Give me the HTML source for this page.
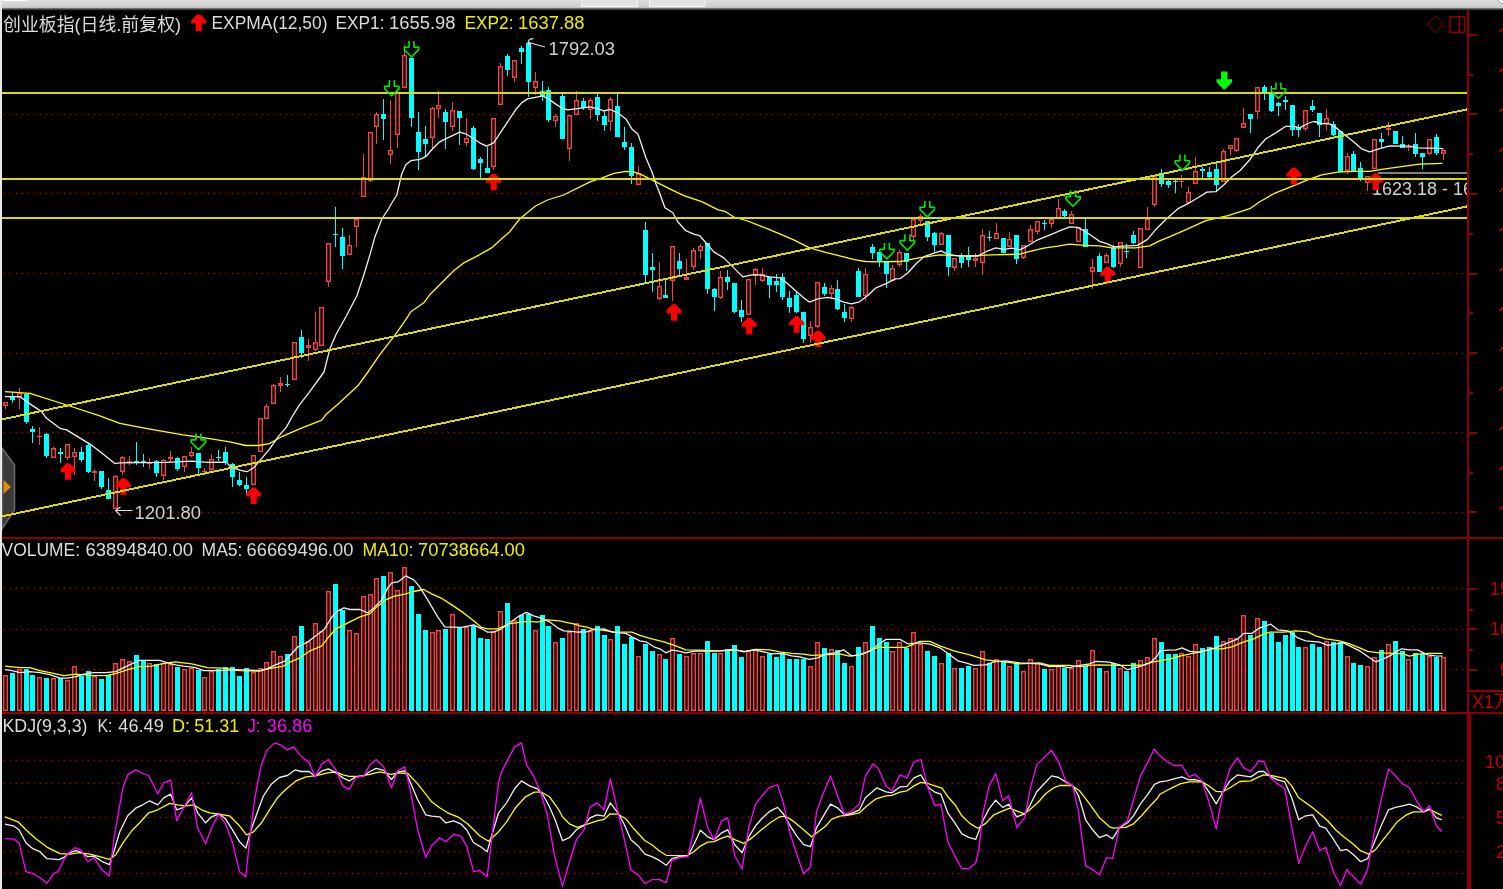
<!DOCTYPE html><html><head><meta charset="utf-8"><title>chart</title><style>html,body{margin:0;padding:0;background:#000;overflow:hidden}body{width:1503px;height:889px;position:relative}svg{position:absolute;left:0;top:0;display:block}text{font-family:"Liberation Sans","Noto Sans CJK SC",sans-serif;font-size:18px}</style></head><body>
<svg width="1503" height="889" viewBox="0 0 1503 889">
<rect x="0" y="0" width="1503" height="889" fill="#000"/>
<path d="M2 448 L14.5 465 V510 L2 529 z" fill="#3a3a3a" stroke="#6a6a6a" stroke-width="1.5"/>
<path d="M3.5 480 L11 487 L3.5 494 z" fill="#e09000"/>
<line x1="3.75" y1="114.5" x2="1466" y2="114.5" stroke="#a40000" stroke-width="1.5" stroke-dasharray="1.5 4.5"/>
<line x1="3.75" y1="193.5" x2="1466" y2="193.5" stroke="#a40000" stroke-width="1.5" stroke-dasharray="1.5 4.5"/>
<line x1="3.75" y1="273.5" x2="1466" y2="273.5" stroke="#a40000" stroke-width="1.5" stroke-dasharray="1.5 4.5"/>
<line x1="3.75" y1="353.5" x2="1466" y2="353.5" stroke="#a40000" stroke-width="1.5" stroke-dasharray="1.5 4.5"/>
<line x1="3.75" y1="432.5" x2="1466" y2="432.5" stroke="#a40000" stroke-width="1.5" stroke-dasharray="1.5 4.5"/>
<line x1="3.75" y1="512.5" x2="1466" y2="512.5" stroke="#a40000" stroke-width="1.5" stroke-dasharray="1.5 4.5"/>
<line x1="3.75" y1="588.5" x2="1466" y2="588.5" stroke="#a40000" stroke-width="1.5" stroke-dasharray="1.5 4.5"/>
<line x1="3.75" y1="629.5" x2="1466" y2="629.5" stroke="#a40000" stroke-width="1.5" stroke-dasharray="1.5 4.5"/>
<line x1="3.75" y1="669.5" x2="1466" y2="669.5" stroke="#a40000" stroke-width="1.5" stroke-dasharray="1.5 4.5"/>
<line x1="3.75" y1="760.5" x2="1466" y2="760.5" stroke="#a40000" stroke-width="1.5" stroke-dasharray="1.5 4.5"/>
<line x1="3.75" y1="783.5" x2="1466" y2="783.5" stroke="#a40000" stroke-width="1.5" stroke-dasharray="1.5 4.5"/>
<line x1="3.75" y1="817.5" x2="1466" y2="817.5" stroke="#a40000" stroke-width="1.5" stroke-dasharray="1.5 4.5"/>
<line x1="3.75" y1="851.5" x2="1466" y2="851.5" stroke="#a40000" stroke-width="1.5" stroke-dasharray="1.5 4.5"/>
<line x1="3.75" y1="873.5" x2="1466" y2="873.5" stroke="#a40000" stroke-width="1.5" stroke-dasharray="1.5 4.5"/>
<g shape-rendering="crispEdges">
<rect x="5" y="406" width="1" height="3" fill="#f04444"/>
<rect x="3.7" y="402.7" width="3.6" height="2.6" fill="none" stroke="#f04444" stroke-width="1.4" shape-rendering="auto"/>
<rect x="12" y="392" width="1" height="11" fill="#00ffff"/>
<rect x="10" y="397" width="5" height="3" fill="#00ffff"/>
<rect x="19" y="388" width="1" height="5" fill="#f04444"/>
<rect x="19" y="398" width="1" height="11" fill="#f04444"/>
<rect x="17.7" y="393.7" width="3.6" height="3.6" fill="none" stroke="#f04444" stroke-width="1.4" shape-rendering="auto"/>
<rect x="26" y="393" width="1" height="31" fill="#00ffff"/>
<rect x="24" y="394" width="5" height="28" fill="#00ffff"/>
<rect x="32" y="426" width="1" height="17" fill="#00ffff"/>
<rect x="30" y="429" width="5" height="3" fill="#00ffff"/>
<rect x="39" y="427" width="1" height="9" fill="#f04444"/>
<rect x="39" y="437" width="1" height="8" fill="#f04444"/>
<rect x="37" y="436" width="5" height="1" fill="#f04444"/>
<rect x="46" y="433" width="1" height="25" fill="#00ffff"/>
<rect x="44" y="434" width="5" height="22" fill="#00ffff"/>
<rect x="53" y="447" width="1" height="1" fill="#f04444"/>
<rect x="51.7" y="448.7" width="3.6" height="8.6" fill="none" stroke="#f04444" stroke-width="1.4" shape-rendering="auto"/>
<rect x="60" y="448" width="1" height="15" fill="#00ffff"/>
<rect x="58" y="452" width="5" height="2" fill="#00ffff"/>
<rect x="67" y="458" width="1" height="2" fill="#f04444"/>
<rect x="65.7" y="444.7" width="3.6" height="12.6" fill="none" stroke="#f04444" stroke-width="1.4" shape-rendering="auto"/>
<rect x="74" y="448" width="1" height="4" fill="#f04444"/>
<rect x="74" y="457" width="1" height="18" fill="#f04444"/>
<rect x="72.7" y="452.7" width="3.6" height="3.6" fill="none" stroke="#f04444" stroke-width="1.4" shape-rendering="auto"/>
<rect x="81" y="447" width="1" height="15" fill="#00ffff"/>
<rect x="79" y="452" width="5" height="8" fill="#00ffff"/>
<rect x="88" y="444" width="1" height="29" fill="#00ffff"/>
<rect x="86" y="445" width="5" height="27" fill="#00ffff"/>
<rect x="94" y="469" width="1" height="2" fill="#f04444"/>
<rect x="94" y="473" width="1" height="8" fill="#f04444"/>
<rect x="92" y="471" width="5" height="2" fill="#f04444"/>
<rect x="101" y="471" width="1" height="18" fill="#00ffff"/>
<rect x="99" y="471" width="5" height="16" fill="#00ffff"/>
<rect x="108" y="478" width="1" height="21" fill="#00ffff"/>
<rect x="106" y="490" width="5" height="9" fill="#00ffff"/>
<rect x="115" y="475" width="1" height="1" fill="#f04444"/>
<rect x="113.7" y="476.7" width="3.6" height="31.6" fill="none" stroke="#f04444" stroke-width="1.4" shape-rendering="auto"/>
<rect x="122" y="456" width="1" height="1" fill="#f04444"/>
<rect x="122" y="472" width="1" height="3" fill="#f04444"/>
<rect x="120.7" y="457.7" width="3.6" height="13.6" fill="none" stroke="#f04444" stroke-width="1.4" shape-rendering="auto"/>
<rect x="129" y="456" width="1" height="5" fill="#f04444"/>
<rect x="129" y="463" width="1" height="2" fill="#f04444"/>
<rect x="127" y="461" width="5" height="2" fill="#f04444"/>
<rect x="136" y="442" width="1" height="23" fill="#00ffff"/>
<rect x="134" y="461" width="5" height="2" fill="#00ffff"/>
<rect x="143" y="454" width="1" height="13" fill="#00ffff"/>
<rect x="141" y="461" width="5" height="1" fill="#00ffff"/>
<rect x="149" y="458" width="1" height="5" fill="#f04444"/>
<rect x="149" y="464" width="1" height="5" fill="#f04444"/>
<rect x="147" y="463" width="5" height="1" fill="#f04444"/>
<rect x="156" y="460" width="1" height="17" fill="#00ffff"/>
<rect x="154" y="461" width="5" height="12" fill="#00ffff"/>
<rect x="163" y="459" width="1" height="1" fill="#f04444"/>
<rect x="163" y="476" width="1" height="4" fill="#f04444"/>
<rect x="161.7" y="460.7" width="3.6" height="14.6" fill="none" stroke="#f04444" stroke-width="1.4" shape-rendering="auto"/>
<rect x="170" y="451" width="1" height="6" fill="#f04444"/>
<rect x="170" y="459" width="1" height="3" fill="#f04444"/>
<rect x="168" y="457" width="5" height="2" fill="#f04444"/>
<rect x="177" y="457" width="1" height="14" fill="#00ffff"/>
<rect x="175" y="458" width="5" height="11" fill="#00ffff"/>
<rect x="184" y="467" width="1" height="5" fill="#f04444"/>
<rect x="182.7" y="456.7" width="3.6" height="9.6" fill="none" stroke="#f04444" stroke-width="1.4" shape-rendering="auto"/>
<rect x="191" y="447" width="1" height="5" fill="#f04444"/>
<rect x="191" y="456" width="1" height="1" fill="#f04444"/>
<rect x="189.7" y="452.7" width="3.6" height="2.6" fill="none" stroke="#f04444" stroke-width="1.4" shape-rendering="auto"/>
<rect x="198" y="453" width="1" height="21" fill="#00ffff"/>
<rect x="196" y="453" width="5" height="15" fill="#00ffff"/>
<rect x="204" y="468" width="1" height="3" fill="#f04444"/>
<rect x="204" y="472" width="1" height="1" fill="#f04444"/>
<rect x="202" y="471" width="5" height="1" fill="#f04444"/>
<rect x="211" y="454" width="1" height="5" fill="#f04444"/>
<rect x="211" y="470" width="1" height="2" fill="#f04444"/>
<rect x="209.7" y="459.7" width="3.6" height="9.6" fill="none" stroke="#f04444" stroke-width="1.4" shape-rendering="auto"/>
<rect x="218" y="450" width="1" height="11" fill="#00ffff"/>
<rect x="216" y="457" width="5" height="1" fill="#00ffff"/>
<rect x="225" y="447" width="1" height="18" fill="#00ffff"/>
<rect x="223" y="452" width="5" height="10" fill="#00ffff"/>
<rect x="232" y="463" width="1" height="24" fill="#00ffff"/>
<rect x="230" y="464" width="5" height="13" fill="#00ffff"/>
<rect x="239" y="472" width="1" height="14" fill="#00ffff"/>
<rect x="237" y="480" width="5" height="5" fill="#00ffff"/>
<rect x="246" y="477" width="1" height="18" fill="#00ffff"/>
<rect x="244" y="485" width="5" height="4" fill="#00ffff"/>
<rect x="251.7" y="455.7" width="3.6" height="28.6" fill="none" stroke="#f04444" stroke-width="1.4" shape-rendering="auto"/>
<rect x="258.7" y="418.7" width="3.6" height="32.6" fill="none" stroke="#f04444" stroke-width="1.4" shape-rendering="auto"/>
<rect x="266" y="404" width="1" height="2" fill="#f04444"/>
<rect x="264.7" y="406.7" width="3.6" height="11.6" fill="none" stroke="#f04444" stroke-width="1.4" shape-rendering="auto"/>
<rect x="273" y="384" width="1" height="1" fill="#f04444"/>
<rect x="271.7" y="385.7" width="3.6" height="17.6" fill="none" stroke="#f04444" stroke-width="1.4" shape-rendering="auto"/>
<rect x="280" y="377" width="1" height="6" fill="#f04444"/>
<rect x="280" y="386" width="1" height="6" fill="#f04444"/>
<rect x="278.7" y="383.7" width="3.6" height="1.6" fill="none" stroke="#f04444" stroke-width="1.4" shape-rendering="auto"/>
<rect x="287" y="375" width="1" height="12" fill="#00ffff"/>
<rect x="285" y="384" width="5" height="1" fill="#00ffff"/>
<rect x="292.7" y="342.7" width="3.6" height="36.6" fill="none" stroke="#f04444" stroke-width="1.4" shape-rendering="auto"/>
<rect x="301" y="330" width="1" height="28" fill="#00ffff"/>
<rect x="299" y="337" width="5" height="16" fill="#00ffff"/>
<rect x="308" y="339" width="1" height="6" fill="#f04444"/>
<rect x="308" y="348" width="1" height="13" fill="#f04444"/>
<rect x="306.7" y="345.7" width="3.6" height="1.6" fill="none" stroke="#f04444" stroke-width="1.4" shape-rendering="auto"/>
<rect x="315" y="312" width="1" height="30" fill="#f04444"/>
<rect x="315" y="350" width="1" height="1" fill="#f04444"/>
<rect x="313.7" y="342.7" width="3.6" height="6.6" fill="none" stroke="#f04444" stroke-width="1.4" shape-rendering="auto"/>
<rect x="319.7" y="307.7" width="3.6" height="37.6" fill="none" stroke="#f04444" stroke-width="1.4" shape-rendering="auto"/>
<rect x="328" y="282" width="1" height="5" fill="#f04444"/>
<rect x="326.7" y="243.7" width="3.6" height="37.6" fill="none" stroke="#f04444" stroke-width="1.4" shape-rendering="auto"/>
<rect x="335" y="207" width="1" height="40" fill="#00ffff"/>
<rect x="333" y="234" width="5" height="1" fill="#00ffff"/>
<rect x="342" y="228" width="1" height="41" fill="#00ffff"/>
<rect x="340" y="237" width="5" height="19" fill="#00ffff"/>
<rect x="349" y="235" width="1" height="10" fill="#f04444"/>
<rect x="347.7" y="245.7" width="3.6" height="8.6" fill="none" stroke="#f04444" stroke-width="1.4" shape-rendering="auto"/>
<rect x="356" y="227" width="1" height="20" fill="#f04444"/>
<rect x="354.7" y="219.7" width="3.6" height="6.6" fill="none" stroke="#f04444" stroke-width="1.4" shape-rendering="auto"/>
<rect x="363" y="154" width="1" height="23" fill="#f04444"/>
<rect x="361.7" y="177.7" width="3.6" height="18.6" fill="none" stroke="#f04444" stroke-width="1.4" shape-rendering="auto"/>
<rect x="370" y="181" width="1" height="1" fill="#f04444"/>
<rect x="368.7" y="132.7" width="3.6" height="47.6" fill="none" stroke="#f04444" stroke-width="1.4" shape-rendering="auto"/>
<rect x="376" y="112" width="1" height="2" fill="#f04444"/>
<rect x="376" y="127" width="1" height="17" fill="#f04444"/>
<rect x="374.7" y="114.7" width="3.6" height="11.6" fill="none" stroke="#f04444" stroke-width="1.4" shape-rendering="auto"/>
<rect x="383" y="99" width="1" height="41" fill="#00ffff"/>
<rect x="381" y="114" width="5" height="5" fill="#00ffff"/>
<rect x="390" y="100" width="1" height="50" fill="#f04444"/>
<rect x="390" y="155" width="1" height="9" fill="#f04444"/>
<rect x="388.7" y="150.7" width="3.6" height="3.6" fill="none" stroke="#f04444" stroke-width="1.4" shape-rendering="auto"/>
<rect x="397" y="91" width="1" height="1" fill="#f04444"/>
<rect x="397" y="135" width="1" height="13" fill="#f04444"/>
<rect x="395.7" y="92.7" width="3.6" height="41.6" fill="none" stroke="#f04444" stroke-width="1.4" shape-rendering="auto"/>
<rect x="404" y="45" width="1" height="10" fill="#f04444"/>
<rect x="402.7" y="55.7" width="3.6" height="31.6" fill="none" stroke="#f04444" stroke-width="1.4" shape-rendering="auto"/>
<rect x="411" y="58" width="1" height="69" fill="#00ffff"/>
<rect x="409" y="58" width="5" height="60" fill="#00ffff"/>
<rect x="418" y="112" width="1" height="58" fill="#00ffff"/>
<rect x="416" y="132" width="5" height="20" fill="#00ffff"/>
<rect x="425" y="126" width="1" height="31" fill="#00ffff"/>
<rect x="423" y="139" width="5" height="5" fill="#00ffff"/>
<rect x="432" y="107" width="1" height="1" fill="#f04444"/>
<rect x="432" y="138" width="1" height="12" fill="#f04444"/>
<rect x="430.7" y="108.7" width="3.6" height="28.6" fill="none" stroke="#f04444" stroke-width="1.4" shape-rendering="auto"/>
<rect x="438" y="91" width="1" height="14" fill="#f04444"/>
<rect x="438" y="109" width="1" height="9" fill="#f04444"/>
<rect x="436.7" y="105.7" width="3.6" height="2.6" fill="none" stroke="#f04444" stroke-width="1.4" shape-rendering="auto"/>
<rect x="445" y="109" width="1" height="40" fill="#00ffff"/>
<rect x="443" y="112" width="5" height="10" fill="#00ffff"/>
<rect x="452" y="102" width="1" height="8" fill="#f04444"/>
<rect x="452" y="127" width="1" height="4" fill="#f04444"/>
<rect x="450.7" y="110.7" width="3.6" height="15.6" fill="none" stroke="#f04444" stroke-width="1.4" shape-rendering="auto"/>
<rect x="459" y="111" width="1" height="34" fill="#00ffff"/>
<rect x="457" y="111" width="5" height="7" fill="#00ffff"/>
<rect x="466" y="118" width="1" height="20" fill="#f04444"/>
<rect x="466" y="143" width="1" height="3" fill="#f04444"/>
<rect x="464.7" y="138.7" width="3.6" height="3.6" fill="none" stroke="#f04444" stroke-width="1.4" shape-rendering="auto"/>
<rect x="473" y="126" width="1" height="44" fill="#00ffff"/>
<rect x="471" y="128" width="5" height="41" fill="#00ffff"/>
<rect x="480" y="157" width="1" height="21" fill="#00ffff"/>
<rect x="478" y="159" width="5" height="4" fill="#00ffff"/>
<rect x="487" y="147" width="1" height="26" fill="#00ffff"/>
<rect x="485" y="168" width="5" height="5" fill="#00ffff"/>
<rect x="493" y="167" width="1" height="3" fill="#f04444"/>
<rect x="491.7" y="118.7" width="3.6" height="47.6" fill="none" stroke="#f04444" stroke-width="1.4" shape-rendering="auto"/>
<rect x="500" y="63" width="1" height="3" fill="#f04444"/>
<rect x="498.7" y="66.7" width="3.6" height="37.6" fill="none" stroke="#f04444" stroke-width="1.4" shape-rendering="auto"/>
<rect x="507" y="54" width="1" height="22" fill="#00ffff"/>
<rect x="505" y="56" width="5" height="14" fill="#00ffff"/>
<rect x="514" y="78" width="1" height="4" fill="#f04444"/>
<rect x="512.7" y="60.7" width="3.6" height="16.6" fill="none" stroke="#f04444" stroke-width="1.4" shape-rendering="auto"/>
<rect x="521" y="46" width="1" height="18" fill="#00ffff"/>
<rect x="519" y="48" width="5" height="4" fill="#00ffff"/>
<rect x="528" y="42" width="1" height="55" fill="#00ffff"/>
<rect x="526" y="43" width="5" height="39" fill="#00ffff"/>
<rect x="535" y="72" width="1" height="9" fill="#f04444"/>
<rect x="535" y="88" width="1" height="7" fill="#f04444"/>
<rect x="533.7" y="81.7" width="3.6" height="5.6" fill="none" stroke="#f04444" stroke-width="1.4" shape-rendering="auto"/>
<rect x="542" y="81" width="1" height="20" fill="#00ffff"/>
<rect x="540" y="91" width="5" height="5" fill="#00ffff"/>
<rect x="548" y="87" width="1" height="35" fill="#00ffff"/>
<rect x="546" y="90" width="5" height="30" fill="#00ffff"/>
<rect x="555" y="114" width="1" height="2" fill="#f04444"/>
<rect x="555" y="121" width="1" height="6" fill="#f04444"/>
<rect x="553.7" y="116.7" width="3.6" height="3.6" fill="none" stroke="#f04444" stroke-width="1.4" shape-rendering="auto"/>
<rect x="562" y="94" width="1" height="45" fill="#00ffff"/>
<rect x="560" y="96" width="5" height="43" fill="#00ffff"/>
<rect x="569" y="149" width="1" height="12" fill="#f04444"/>
<rect x="567.7" y="115.7" width="3.6" height="32.6" fill="none" stroke="#f04444" stroke-width="1.4" shape-rendering="auto"/>
<rect x="576" y="91" width="1" height="9" fill="#f04444"/>
<rect x="574.7" y="100.7" width="3.6" height="13.6" fill="none" stroke="#f04444" stroke-width="1.4" shape-rendering="auto"/>
<rect x="583" y="98" width="1" height="12" fill="#00ffff"/>
<rect x="581" y="101" width="5" height="7" fill="#00ffff"/>
<rect x="590" y="98" width="1" height="2" fill="#f04444"/>
<rect x="590" y="110" width="1" height="9" fill="#f04444"/>
<rect x="588.7" y="100.7" width="3.6" height="8.6" fill="none" stroke="#f04444" stroke-width="1.4" shape-rendering="auto"/>
<rect x="597" y="94" width="1" height="27" fill="#00ffff"/>
<rect x="595" y="97" width="5" height="18" fill="#00ffff"/>
<rect x="604" y="110" width="1" height="21" fill="#00ffff"/>
<rect x="602" y="116" width="5" height="9" fill="#00ffff"/>
<rect x="610" y="97" width="1" height="2" fill="#f04444"/>
<rect x="610" y="122" width="1" height="9" fill="#f04444"/>
<rect x="608.7" y="99.7" width="3.6" height="21.6" fill="none" stroke="#f04444" stroke-width="1.4" shape-rendering="auto"/>
<rect x="617" y="94" width="1" height="43" fill="#00ffff"/>
<rect x="615" y="106" width="5" height="31" fill="#00ffff"/>
<rect x="624" y="127" width="1" height="23" fill="#00ffff"/>
<rect x="622" y="142" width="5" height="5" fill="#00ffff"/>
<rect x="631" y="143" width="1" height="41" fill="#00ffff"/>
<rect x="629" y="147" width="5" height="29" fill="#00ffff"/>
<rect x="638" y="166" width="1" height="7" fill="#f04444"/>
<rect x="636.7" y="173.7" width="3.6" height="10.6" fill="none" stroke="#f04444" stroke-width="1.4" shape-rendering="auto"/>
<rect x="645" y="222" width="1" height="60" fill="#00ffff"/>
<rect x="643" y="230" width="5" height="45" fill="#00ffff"/>
<rect x="652" y="253" width="1" height="39" fill="#00ffff"/>
<rect x="650" y="267" width="5" height="3" fill="#00ffff"/>
<rect x="659" y="262" width="1" height="24" fill="#f04444"/>
<rect x="659" y="299" width="1" height="1" fill="#f04444"/>
<rect x="657.7" y="286.7" width="3.6" height="11.6" fill="none" stroke="#f04444" stroke-width="1.4" shape-rendering="auto"/>
<rect x="665" y="280" width="1" height="18" fill="#00ffff"/>
<rect x="663" y="295" width="5" height="3" fill="#00ffff"/>
<rect x="672" y="281" width="1" height="20" fill="#f04444"/>
<rect x="670.7" y="246.7" width="3.6" height="33.6" fill="none" stroke="#f04444" stroke-width="1.4" shape-rendering="auto"/>
<rect x="679" y="253" width="1" height="23" fill="#00ffff"/>
<rect x="677" y="261" width="5" height="8" fill="#00ffff"/>
<rect x="686" y="259" width="1" height="18" fill="#f04444"/>
<rect x="684.7" y="277.7" width="3.6" height="1.6" fill="none" stroke="#f04444" stroke-width="1.4" shape-rendering="auto"/>
<rect x="693" y="248" width="1" height="2" fill="#f04444"/>
<rect x="693" y="267" width="1" height="3" fill="#f04444"/>
<rect x="691.7" y="250.7" width="3.6" height="15.6" fill="none" stroke="#f04444" stroke-width="1.4" shape-rendering="auto"/>
<rect x="700" y="244" width="1" height="2" fill="#f04444"/>
<rect x="700" y="251" width="1" height="8" fill="#f04444"/>
<rect x="698.7" y="246.7" width="3.6" height="3.6" fill="none" stroke="#f04444" stroke-width="1.4" shape-rendering="auto"/>
<rect x="707" y="243" width="1" height="51" fill="#00ffff"/>
<rect x="705" y="243" width="5" height="46" fill="#00ffff"/>
<rect x="714" y="288" width="1" height="23" fill="#00ffff"/>
<rect x="712" y="289" width="5" height="8" fill="#00ffff"/>
<rect x="720" y="271" width="1" height="6" fill="#f04444"/>
<rect x="720" y="298" width="1" height="1" fill="#f04444"/>
<rect x="718.7" y="277.7" width="3.6" height="19.6" fill="none" stroke="#f04444" stroke-width="1.4" shape-rendering="auto"/>
<rect x="727" y="270" width="1" height="20" fill="#00ffff"/>
<rect x="725" y="277" width="5" height="5" fill="#00ffff"/>
<rect x="734" y="283" width="1" height="30" fill="#00ffff"/>
<rect x="732" y="283" width="5" height="29" fill="#00ffff"/>
<rect x="741" y="300" width="1" height="22" fill="#00ffff"/>
<rect x="739" y="310" width="5" height="7" fill="#00ffff"/>
<rect x="746.7" y="279.7" width="3.6" height="34.6" fill="none" stroke="#f04444" stroke-width="1.4" shape-rendering="auto"/>
<rect x="755" y="268" width="1" height="1" fill="#f04444"/>
<rect x="755" y="276" width="1" height="9" fill="#f04444"/>
<rect x="753.7" y="269.7" width="3.6" height="5.6" fill="none" stroke="#f04444" stroke-width="1.4" shape-rendering="auto"/>
<rect x="762" y="268" width="1" height="6" fill="#f04444"/>
<rect x="762" y="281" width="1" height="1" fill="#f04444"/>
<rect x="760.7" y="274.7" width="3.6" height="5.6" fill="none" stroke="#f04444" stroke-width="1.4" shape-rendering="auto"/>
<rect x="769" y="277" width="1" height="21" fill="#00ffff"/>
<rect x="767" y="277" width="5" height="8" fill="#00ffff"/>
<rect x="776" y="274" width="1" height="18" fill="#00ffff"/>
<rect x="774" y="281" width="5" height="4" fill="#00ffff"/>
<rect x="782" y="273" width="1" height="27" fill="#00ffff"/>
<rect x="780" y="277" width="5" height="20" fill="#00ffff"/>
<rect x="789" y="291" width="1" height="22" fill="#00ffff"/>
<rect x="787" y="298" width="5" height="9" fill="#00ffff"/>
<rect x="796" y="292" width="1" height="21" fill="#00ffff"/>
<rect x="794" y="295" width="5" height="17" fill="#00ffff"/>
<rect x="803" y="312" width="1" height="31" fill="#00ffff"/>
<rect x="801" y="312" width="5" height="27" fill="#00ffff"/>
<rect x="810" y="321" width="1" height="6" fill="#f04444"/>
<rect x="810" y="336" width="1" height="7" fill="#f04444"/>
<rect x="808.7" y="327.7" width="3.6" height="7.6" fill="none" stroke="#f04444" stroke-width="1.4" shape-rendering="auto"/>
<rect x="817" y="327" width="1" height="1" fill="#f04444"/>
<rect x="815.7" y="282.7" width="3.6" height="43.6" fill="none" stroke="#f04444" stroke-width="1.4" shape-rendering="auto"/>
<rect x="824" y="283" width="1" height="13" fill="#00ffff"/>
<rect x="822" y="287" width="5" height="7" fill="#00ffff"/>
<rect x="831" y="285" width="1" height="3" fill="#f04444"/>
<rect x="831" y="294" width="1" height="5" fill="#f04444"/>
<rect x="829.7" y="288.7" width="3.6" height="4.6" fill="none" stroke="#f04444" stroke-width="1.4" shape-rendering="auto"/>
<rect x="837" y="280" width="1" height="30" fill="#00ffff"/>
<rect x="835" y="289" width="5" height="20" fill="#00ffff"/>
<rect x="844" y="304" width="1" height="18" fill="#00ffff"/>
<rect x="842" y="312" width="5" height="6" fill="#00ffff"/>
<rect x="851" y="306" width="1" height="1" fill="#f04444"/>
<rect x="851" y="319" width="1" height="3" fill="#f04444"/>
<rect x="849.7" y="307.7" width="3.6" height="10.6" fill="none" stroke="#f04444" stroke-width="1.4" shape-rendering="auto"/>
<rect x="858" y="268" width="1" height="29" fill="#00ffff"/>
<rect x="856" y="271" width="5" height="26" fill="#00ffff"/>
<rect x="865" y="268" width="1" height="6" fill="#f04444"/>
<rect x="865" y="296" width="1" height="5" fill="#f04444"/>
<rect x="863.7" y="274.7" width="3.6" height="20.6" fill="none" stroke="#f04444" stroke-width="1.4" shape-rendering="auto"/>
<rect x="872" y="244" width="1" height="15" fill="#00ffff"/>
<rect x="870" y="247" width="5" height="6" fill="#00ffff"/>
<rect x="879" y="252" width="1" height="15" fill="#00ffff"/>
<rect x="877" y="252" width="5" height="9" fill="#00ffff"/>
<rect x="886" y="261" width="1" height="27" fill="#00ffff"/>
<rect x="884" y="261" width="5" height="13" fill="#00ffff"/>
<rect x="892" y="265" width="1" height="3" fill="#f04444"/>
<rect x="890.7" y="268.7" width="3.6" height="11.6" fill="none" stroke="#f04444" stroke-width="1.4" shape-rendering="auto"/>
<rect x="899" y="250" width="1" height="2" fill="#f04444"/>
<rect x="899" y="265" width="1" height="2" fill="#f04444"/>
<rect x="897.7" y="252.7" width="3.6" height="11.6" fill="none" stroke="#f04444" stroke-width="1.4" shape-rendering="auto"/>
<rect x="906" y="253" width="1" height="18" fill="#00ffff"/>
<rect x="904" y="253" width="5" height="9" fill="#00ffff"/>
<rect x="913" y="237" width="1" height="4" fill="#f04444"/>
<rect x="911.7" y="219.7" width="3.6" height="16.6" fill="none" stroke="#f04444" stroke-width="1.4" shape-rendering="auto"/>
<rect x="920" y="214" width="1" height="2" fill="#f04444"/>
<rect x="920" y="221" width="1" height="4" fill="#f04444"/>
<rect x="918.7" y="216.7" width="3.6" height="3.6" fill="none" stroke="#f04444" stroke-width="1.4" shape-rendering="auto"/>
<rect x="927" y="221" width="1" height="20" fill="#00ffff"/>
<rect x="925" y="221" width="5" height="16" fill="#00ffff"/>
<rect x="934" y="232" width="1" height="20" fill="#00ffff"/>
<rect x="932" y="233" width="5" height="12" fill="#00ffff"/>
<rect x="941" y="232" width="1" height="1" fill="#f04444"/>
<rect x="939.7" y="233.7" width="3.6" height="10.6" fill="none" stroke="#f04444" stroke-width="1.4" shape-rendering="auto"/>
<rect x="948" y="235" width="1" height="41" fill="#00ffff"/>
<rect x="946" y="235" width="5" height="32" fill="#00ffff"/>
<rect x="954" y="268" width="1" height="3" fill="#f04444"/>
<rect x="952.7" y="258.7" width="3.6" height="8.6" fill="none" stroke="#f04444" stroke-width="1.4" shape-rendering="auto"/>
<rect x="961" y="253" width="1" height="15" fill="#00ffff"/>
<rect x="959" y="255" width="5" height="8" fill="#00ffff"/>
<rect x="968" y="247" width="1" height="20" fill="#00ffff"/>
<rect x="966" y="255" width="5" height="5" fill="#00ffff"/>
<rect x="975" y="253" width="1" height="5" fill="#f04444"/>
<rect x="975" y="261" width="1" height="6" fill="#f04444"/>
<rect x="973.7" y="258.7" width="3.6" height="1.6" fill="none" stroke="#f04444" stroke-width="1.4" shape-rendering="auto"/>
<rect x="982" y="229" width="1" height="6" fill="#f04444"/>
<rect x="982" y="263" width="1" height="12" fill="#f04444"/>
<rect x="980.7" y="235.7" width="3.6" height="26.6" fill="none" stroke="#f04444" stroke-width="1.4" shape-rendering="auto"/>
<rect x="989" y="231" width="1" height="10" fill="#00ffff"/>
<rect x="987" y="237" width="5" height="1" fill="#00ffff"/>
<rect x="996" y="223" width="1" height="10" fill="#f04444"/>
<rect x="994.7" y="233.7" width="3.6" height="4.6" fill="none" stroke="#f04444" stroke-width="1.4" shape-rendering="auto"/>
<rect x="1003" y="238" width="1" height="15" fill="#00ffff"/>
<rect x="1001" y="238" width="5" height="15" fill="#00ffff"/>
<rect x="1009" y="232" width="1" height="7" fill="#f04444"/>
<rect x="1007.7" y="239.7" width="3.6" height="6.6" fill="none" stroke="#f04444" stroke-width="1.4" shape-rendering="auto"/>
<rect x="1016" y="235" width="1" height="29" fill="#00ffff"/>
<rect x="1014" y="235" width="5" height="24" fill="#00ffff"/>
<rect x="1023" y="258" width="1" height="1" fill="#f04444"/>
<rect x="1021.7" y="245.7" width="3.6" height="11.6" fill="none" stroke="#f04444" stroke-width="1.4" shape-rendering="auto"/>
<rect x="1030" y="225" width="1" height="4" fill="#f04444"/>
<rect x="1028.7" y="229.7" width="3.6" height="11.6" fill="none" stroke="#f04444" stroke-width="1.4" shape-rendering="auto"/>
<rect x="1037" y="232" width="1" height="2" fill="#f04444"/>
<rect x="1035.7" y="221.7" width="3.6" height="9.6" fill="none" stroke="#f04444" stroke-width="1.4" shape-rendering="auto"/>
<rect x="1044" y="220" width="1" height="10" fill="#00ffff"/>
<rect x="1042" y="223" width="5" height="1" fill="#00ffff"/>
<rect x="1051" y="218" width="1" height="1" fill="#f04444"/>
<rect x="1051" y="224" width="1" height="4" fill="#f04444"/>
<rect x="1049.7" y="219.7" width="3.6" height="3.6" fill="none" stroke="#f04444" stroke-width="1.4" shape-rendering="auto"/>
<rect x="1058" y="199" width="1" height="9" fill="#f04444"/>
<rect x="1056.7" y="208.7" width="3.6" height="9.6" fill="none" stroke="#f04444" stroke-width="1.4" shape-rendering="auto"/>
<rect x="1064" y="209" width="1" height="8" fill="#00ffff"/>
<rect x="1062" y="211" width="5" height="5" fill="#00ffff"/>
<rect x="1071" y="211" width="1" height="3" fill="#f04444"/>
<rect x="1069.7" y="214.7" width="3.6" height="8.6" fill="none" stroke="#f04444" stroke-width="1.4" shape-rendering="auto"/>
<rect x="1076.7" y="227.7" width="3.6" height="13.6" fill="none" stroke="#f04444" stroke-width="1.4" shape-rendering="auto"/>
<rect x="1085" y="219" width="1" height="28" fill="#00ffff"/>
<rect x="1083" y="229" width="5" height="18" fill="#00ffff"/>
<rect x="1092" y="259" width="1" height="8" fill="#f04444"/>
<rect x="1092" y="272" width="1" height="17" fill="#f04444"/>
<rect x="1090.7" y="267.7" width="3.6" height="3.6" fill="none" stroke="#f04444" stroke-width="1.4" shape-rendering="auto"/>
<rect x="1099" y="253" width="1" height="19" fill="#00ffff"/>
<rect x="1097" y="256" width="5" height="16" fill="#00ffff"/>
<rect x="1106" y="253" width="1" height="2" fill="#f04444"/>
<rect x="1104.7" y="255.7" width="3.6" height="6.6" fill="none" stroke="#f04444" stroke-width="1.4" shape-rendering="auto"/>
<rect x="1113" y="245" width="1" height="23" fill="#00ffff"/>
<rect x="1111" y="248" width="5" height="19" fill="#00ffff"/>
<rect x="1120" y="264" width="1" height="3" fill="#f04444"/>
<rect x="1118.7" y="242.7" width="3.6" height="20.6" fill="none" stroke="#f04444" stroke-width="1.4" shape-rendering="auto"/>
<rect x="1126" y="244" width="1" height="14" fill="#00ffff"/>
<rect x="1124" y="251" width="5" height="1" fill="#00ffff"/>
<rect x="1133" y="231" width="1" height="13" fill="#00ffff"/>
<rect x="1131" y="235" width="5" height="8" fill="#00ffff"/>
<rect x="1138.7" y="228.7" width="3.6" height="38.6" fill="none" stroke="#f04444" stroke-width="1.4" shape-rendering="auto"/>
<rect x="1147" y="207" width="1" height="12" fill="#f04444"/>
<rect x="1145.7" y="219.7" width="3.6" height="9.6" fill="none" stroke="#f04444" stroke-width="1.4" shape-rendering="auto"/>
<rect x="1154" y="205" width="1" height="2" fill="#f04444"/>
<rect x="1152.7" y="176.7" width="3.6" height="27.6" fill="none" stroke="#f04444" stroke-width="1.4" shape-rendering="auto"/>
<rect x="1161" y="169" width="1" height="18" fill="#00ffff"/>
<rect x="1159" y="174" width="5" height="10" fill="#00ffff"/>
<rect x="1168" y="180" width="1" height="8" fill="#00ffff"/>
<rect x="1166" y="181" width="5" height="4" fill="#00ffff"/>
<rect x="1175" y="179" width="1" height="14" fill="#00ffff"/>
<rect x="1173" y="181" width="5" height="1" fill="#00ffff"/>
<rect x="1181" y="175" width="1" height="6" fill="#f04444"/>
<rect x="1181" y="182" width="1" height="6" fill="#f04444"/>
<rect x="1179" y="181" width="5" height="1" fill="#f04444"/>
<rect x="1188" y="187" width="1" height="5" fill="#f04444"/>
<rect x="1188" y="203" width="1" height="1" fill="#f04444"/>
<rect x="1186.7" y="192.7" width="3.6" height="9.6" fill="none" stroke="#f04444" stroke-width="1.4" shape-rendering="auto"/>
<rect x="1195" y="157" width="1" height="14" fill="#f04444"/>
<rect x="1193.7" y="171.7" width="3.6" height="11.6" fill="none" stroke="#f04444" stroke-width="1.4" shape-rendering="auto"/>
<rect x="1202" y="167" width="1" height="12" fill="#00ffff"/>
<rect x="1200" y="169" width="5" height="2" fill="#00ffff"/>
<rect x="1209" y="167" width="1" height="13" fill="#00ffff"/>
<rect x="1207" y="172" width="5" height="5" fill="#00ffff"/>
<rect x="1216" y="163" width="1" height="29" fill="#00ffff"/>
<rect x="1214" y="169" width="5" height="16" fill="#00ffff"/>
<rect x="1223" y="149" width="1" height="2" fill="#f04444"/>
<rect x="1221.7" y="151.7" width="3.6" height="29.6" fill="none" stroke="#f04444" stroke-width="1.4" shape-rendering="auto"/>
<rect x="1230" y="149" width="1" height="6" fill="#f04444"/>
<rect x="1228.7" y="145.7" width="3.6" height="2.6" fill="none" stroke="#f04444" stroke-width="1.4" shape-rendering="auto"/>
<rect x="1236" y="151" width="1" height="1" fill="#f04444"/>
<rect x="1234.7" y="138.7" width="3.6" height="11.6" fill="none" stroke="#f04444" stroke-width="1.4" shape-rendering="auto"/>
<rect x="1243" y="108" width="1" height="15" fill="#f04444"/>
<rect x="1241.7" y="123.7" width="3.6" height="3.6" fill="none" stroke="#f04444" stroke-width="1.4" shape-rendering="auto"/>
<rect x="1250" y="114" width="1" height="19" fill="#00ffff"/>
<rect x="1248" y="114" width="5" height="5" fill="#00ffff"/>
<rect x="1257" y="112" width="1" height="7" fill="#f04444"/>
<rect x="1255.7" y="87.7" width="3.6" height="23.6" fill="none" stroke="#f04444" stroke-width="1.4" shape-rendering="auto"/>
<rect x="1264" y="85" width="1" height="15" fill="#00ffff"/>
<rect x="1262" y="87" width="5" height="6" fill="#00ffff"/>
<rect x="1271" y="86" width="1" height="26" fill="#00ffff"/>
<rect x="1269" y="93" width="5" height="18" fill="#00ffff"/>
<rect x="1278" y="102" width="1" height="14" fill="#00ffff"/>
<rect x="1276" y="103" width="5" height="3" fill="#00ffff"/>
<rect x="1285" y="96" width="1" height="14" fill="#00ffff"/>
<rect x="1283" y="100" width="5" height="2" fill="#00ffff"/>
<rect x="1292" y="105" width="1" height="31" fill="#00ffff"/>
<rect x="1290" y="105" width="5" height="25" fill="#00ffff"/>
<rect x="1298" y="124" width="1" height="13" fill="#00ffff"/>
<rect x="1296" y="127" width="5" height="3" fill="#00ffff"/>
<rect x="1305" y="129" width="1" height="2" fill="#f04444"/>
<rect x="1303.7" y="110.7" width="3.6" height="17.6" fill="none" stroke="#f04444" stroke-width="1.4" shape-rendering="auto"/>
<rect x="1312" y="100" width="1" height="12" fill="#00ffff"/>
<rect x="1310" y="106" width="5" height="4" fill="#00ffff"/>
<rect x="1319" y="113" width="1" height="24" fill="#00ffff"/>
<rect x="1317" y="113" width="5" height="12" fill="#00ffff"/>
<rect x="1326" y="109" width="1" height="9" fill="#f04444"/>
<rect x="1326" y="124" width="1" height="6" fill="#f04444"/>
<rect x="1324.7" y="118.7" width="3.6" height="4.6" fill="none" stroke="#f04444" stroke-width="1.4" shape-rendering="auto"/>
<rect x="1333" y="121" width="1" height="15" fill="#00ffff"/>
<rect x="1331" y="124" width="5" height="11" fill="#00ffff"/>
<rect x="1340" y="131" width="1" height="41" fill="#00ffff"/>
<rect x="1338" y="131" width="5" height="41" fill="#00ffff"/>
<rect x="1347" y="153" width="1" height="3" fill="#f04444"/>
<rect x="1347" y="171" width="1" height="3" fill="#f04444"/>
<rect x="1345.7" y="156.7" width="3.6" height="13.6" fill="none" stroke="#f04444" stroke-width="1.4" shape-rendering="auto"/>
<rect x="1353" y="151" width="1" height="21" fill="#00ffff"/>
<rect x="1351" y="154" width="5" height="18" fill="#00ffff"/>
<rect x="1360" y="162" width="1" height="19" fill="#00ffff"/>
<rect x="1358" y="168" width="5" height="10" fill="#00ffff"/>
<rect x="1367" y="183" width="1" height="8" fill="#f04444"/>
<rect x="1365.7" y="176.7" width="3.6" height="5.6" fill="none" stroke="#f04444" stroke-width="1.4" shape-rendering="auto"/>
<rect x="1372.7" y="139.7" width="3.6" height="28.6" fill="none" stroke="#f04444" stroke-width="1.4" shape-rendering="auto"/>
<rect x="1381" y="133" width="1" height="15" fill="#00ffff"/>
<rect x="1379" y="139" width="5" height="3" fill="#00ffff"/>
<rect x="1388" y="122" width="1" height="6" fill="#f04444"/>
<rect x="1388" y="130" width="1" height="6" fill="#f04444"/>
<rect x="1386" y="128" width="5" height="2" fill="#f04444"/>
<rect x="1395" y="131" width="1" height="13" fill="#00ffff"/>
<rect x="1393" y="131" width="5" height="13" fill="#00ffff"/>
<rect x="1402" y="136" width="1" height="12" fill="#00ffff"/>
<rect x="1400" y="144" width="5" height="4" fill="#00ffff"/>
<rect x="1408" y="144" width="1" height="3" fill="#f04444"/>
<rect x="1408" y="148" width="1" height="3" fill="#f04444"/>
<rect x="1406" y="147" width="5" height="1" fill="#f04444"/>
<rect x="1415" y="133" width="1" height="24" fill="#00ffff"/>
<rect x="1413" y="144" width="5" height="10" fill="#00ffff"/>
<rect x="1422" y="153" width="1" height="16" fill="#00ffff"/>
<rect x="1420" y="153" width="5" height="4" fill="#00ffff"/>
<rect x="1429" y="154" width="1" height="1" fill="#f04444"/>
<rect x="1427.7" y="139.7" width="3.6" height="13.6" fill="none" stroke="#f04444" stroke-width="1.4" shape-rendering="auto"/>
<rect x="1436" y="134" width="1" height="21" fill="#00ffff"/>
<rect x="1434" y="137" width="5" height="16" fill="#00ffff"/>
<rect x="1443" y="154" width="1" height="6" fill="#f04444"/>
<rect x="1441.7" y="150.7" width="3.6" height="2.6" fill="none" stroke="#f04444" stroke-width="1.4" shape-rendering="auto"/>
</g>
<polyline fill="none" stroke="#ffff00" stroke-width="1.3" stroke-linejoin="round"  points="5.0,391.7 30.0,393.3 66.6,405.0 99.9,415.8 119.8,423.3 149.8,429.1 183.1,434.9 208.1,438.3 229.7,441.9 245.7,445.5 258.8,445.5 269.3,443.6 282.4,436.3 300.8,428.4 321.7,420.1 325.7,414.8 340.1,402.2 358.4,385.2 367.9,372.0 379.8,354.7 393.8,336.7 403.8,322.7 410.8,311.8 423.8,302.8 429.7,294.8 439.7,284.8 453.7,270.8 463.7,262.9 475.6,256.9 491.6,247.9 503.6,236.9 509.6,231.9 519.6,219.0 535.5,206.0 547.5,200.0 563.5,195.0 590.0,181.8 602.0,177.8 614.0,173.4 625.9,171.4 633.9,171.8 641.9,174.8 653.9,180.8 669.8,188.8 683.8,195.7 701.8,201.7 717.7,209.7 725.7,211.7 733.8,217.0 747.7,221.0 767.7,228.9 779.7,233.9 793.7,239.9 809.6,247.9 825.6,252.3 841.6,256.3 855.5,259.9 865.5,261.5 879.5,261.9 895.4,261.5 900.0,261.7 920.0,257.7 939.9,254.8 965.9,256.1 991.8,254.8 1019.8,254.2 1027.7,251.8 1043.7,248.2 1057.7,246.2 1069.7,244.2 1083.6,245.4 1099.6,245.8 1111.6,247.8 1135.5,247.8 1149.5,245.8 1159.5,240.8 1170.0,236.6 1186.0,229.7 1205.9,220.7 1227.9,215.7 1249.8,208.7 1259.8,201.7 1273.8,193.7 1293.8,185.7 1307.7,179.8 1321.7,174.8 1337.7,172.2 1353.6,171.4 1369.6,171.4 1381.6,169.4 1399.5,166.8 1419.5,164.2 1442.5,163.4"/>
<polyline fill="none" stroke="#f0f0f0" stroke-width="1.3" stroke-linejoin="round"  points="5.0,396.7 20.0,396.7 26.6,401.6 41.6,411.6 46.6,418.3 59.9,428.3 66.6,429.9 89.9,444.1 99.9,451.6 114.8,463.6 119.8,462.9 166.4,462.4 191.4,461.2 208.1,462.4 226.4,462.1 230.0,466.4 240.5,470.4 247.0,471.7 253.6,467.8 261.5,458.6 269.3,449.4 278.5,436.3 286.4,427.1 292.9,415.3 299.5,404.8 308.6,393.1 324.0,372.0 329.9,348.7 335.9,334.7 345.9,316.8 356.9,295.8 363.9,274.8 369.9,254.9 374.9,236.9 381.8,219.0 387.8,210.0 391.8,203.0 396.8,195.0 401.8,173.7 405.8,164.7 410.8,160.7 419.8,159.3 425.7,156.7 431.7,149.8 439.7,141.8 447.7,137.8 459.7,132.2 465.7,133.8 473.7,138.8 479.6,142.8 486.6,146.2 493.6,142.8 499.6,133.8 507.6,121.8 515.6,109.8 521.6,102.9 527.5,98.9 535.5,97.3 542.5,95.9 548.5,98.9 555.5,103.9 561.5,107.8 567.5,109.8 575.4,108.8 583.4,107.8 590.0,106.9 598.0,108.9 604.0,110.9 610.0,109.5 617.9,112.9 625.9,118.9 631.9,128.9 637.9,133.9 641.9,145.8 645.9,157.8 651.9,171.8 655.9,183.8 659.9,193.8 664.9,207.7 672.8,212.7 677.8,221.7 685.8,230.7 693.8,234.1 699.8,235.7 713.8,251.9 723.8,257.9 730.8,264.9 737.8,271.9 742.8,276.8 751.7,274.9 759.7,274.9 769.7,276.8 779.7,277.8 787.7,283.8 795.6,290.8 803.6,297.8 809.6,302.2 817.6,298.8 827.6,297.4 835.6,298.8 843.6,302.2 851.5,303.8 859.5,301.8 867.5,295.8 875.5,288.2 885.5,283.8 895.4,278.8 900.0,278.7 908.0,272.7 916.0,263.7 924.0,256.7 931.9,253.8 940.9,250.8 947.9,254.2 955.9,255.7 967.9,256.1 977.8,256.1 987.8,250.8 995.8,247.8 1003.8,249.4 1011.8,248.2 1019.8,249.8 1027.7,245.8 1037.7,239.8 1047.7,235.8 1059.7,230.8 1069.7,226.8 1077.6,227.4 1085.6,231.8 1091.6,235.8 1099.6,241.4 1107.6,243.8 1113.6,246.8 1121.6,246.2 1129.5,245.8 1137.5,245.4 1147.5,239.4 1155.5,229.8 1165.5,219.8 1170.0,215.7 1178.0,208.7 1188.0,203.7 1197.9,197.7 1206.9,192.1 1215.9,191.7 1223.9,184.8 1231.9,176.8 1239.9,170.8 1249.8,159.8 1257.8,147.8 1265.8,138.8 1275.8,132.9 1285.8,126.3 1293.8,126.3 1299.7,127.9 1307.7,123.5 1313.7,121.5 1321.7,123.5 1329.7,123.9 1337.7,128.9 1345.6,135.4 1353.6,141.8 1361.6,148.8 1369.6,151.8 1375.6,149.8 1381.6,148.2 1389.6,145.8 1401.5,146.2 1409.5,146.2 1417.5,147.8 1427.5,148.2 1437.5,148.2 1443.5,148.8"/>
<g shape-rendering="crispEdges">
<rect x="3.7" y="675.7" width="3.6" height="34.6" fill="#2a0000" stroke="#f04444" stroke-width="1.4" shape-rendering="auto"/>
<rect x="10" y="673" width="5" height="38" fill="#00ffff"/>
<rect x="17.7" y="669.7" width="3.6" height="40.6" fill="#2a0000" stroke="#f04444" stroke-width="1.4" shape-rendering="auto"/>
<rect x="24" y="669" width="5" height="42" fill="#00ffff"/>
<rect x="30" y="675" width="5" height="36" fill="#00ffff"/>
<rect x="37.7" y="677.7" width="3.6" height="32.6" fill="#2a0000" stroke="#f04444" stroke-width="1.4" shape-rendering="auto"/>
<rect x="44" y="678" width="5" height="33" fill="#00ffff"/>
<rect x="51.7" y="678.7" width="3.6" height="31.6" fill="#2a0000" stroke="#f04444" stroke-width="1.4" shape-rendering="auto"/>
<rect x="58" y="678" width="5" height="33" fill="#00ffff"/>
<rect x="65.7" y="680.7" width="3.6" height="29.6" fill="#2a0000" stroke="#f04444" stroke-width="1.4" shape-rendering="auto"/>
<rect x="72.7" y="666.7" width="3.6" height="43.6" fill="#2a0000" stroke="#f04444" stroke-width="1.4" shape-rendering="auto"/>
<rect x="79" y="676" width="5" height="35" fill="#00ffff"/>
<rect x="86" y="671" width="5" height="40" fill="#00ffff"/>
<rect x="92.7" y="676.7" width="3.6" height="33.6" fill="#2a0000" stroke="#f04444" stroke-width="1.4" shape-rendering="auto"/>
<rect x="99" y="679" width="5" height="32" fill="#00ffff"/>
<rect x="106" y="675" width="5" height="36" fill="#00ffff"/>
<rect x="113.7" y="663.7" width="3.6" height="46.6" fill="#2a0000" stroke="#f04444" stroke-width="1.4" shape-rendering="auto"/>
<rect x="120.7" y="659.7" width="3.6" height="50.6" fill="#2a0000" stroke="#f04444" stroke-width="1.4" shape-rendering="auto"/>
<rect x="127.7" y="661.7" width="3.6" height="48.6" fill="#2a0000" stroke="#f04444" stroke-width="1.4" shape-rendering="auto"/>
<rect x="134" y="655" width="5" height="56" fill="#00ffff"/>
<rect x="141" y="661" width="5" height="50" fill="#00ffff"/>
<rect x="147.7" y="663.7" width="3.6" height="46.6" fill="#2a0000" stroke="#f04444" stroke-width="1.4" shape-rendering="auto"/>
<rect x="154" y="664" width="5" height="47" fill="#00ffff"/>
<rect x="161.7" y="663.7" width="3.6" height="46.6" fill="#2a0000" stroke="#f04444" stroke-width="1.4" shape-rendering="auto"/>
<rect x="168.7" y="664.7" width="3.6" height="45.6" fill="#2a0000" stroke="#f04444" stroke-width="1.4" shape-rendering="auto"/>
<rect x="175" y="667" width="5" height="44" fill="#00ffff"/>
<rect x="182.7" y="669.7" width="3.6" height="40.6" fill="#2a0000" stroke="#f04444" stroke-width="1.4" shape-rendering="auto"/>
<rect x="189.7" y="668.7" width="3.6" height="41.6" fill="#2a0000" stroke="#f04444" stroke-width="1.4" shape-rendering="auto"/>
<rect x="196" y="670" width="5" height="41" fill="#00ffff"/>
<rect x="202.7" y="677.7" width="3.6" height="32.6" fill="#2a0000" stroke="#f04444" stroke-width="1.4" shape-rendering="auto"/>
<rect x="209.7" y="671.7" width="3.6" height="38.6" fill="#2a0000" stroke="#f04444" stroke-width="1.4" shape-rendering="auto"/>
<rect x="216" y="669" width="5" height="42" fill="#00ffff"/>
<rect x="223" y="667" width="5" height="44" fill="#00ffff"/>
<rect x="230" y="667" width="5" height="44" fill="#00ffff"/>
<rect x="237" y="676" width="5" height="35" fill="#00ffff"/>
<rect x="244" y="668" width="5" height="43" fill="#00ffff"/>
<rect x="251.7" y="672.7" width="3.6" height="37.6" fill="#2a0000" stroke="#f04444" stroke-width="1.4" shape-rendering="auto"/>
<rect x="258.7" y="668.7" width="3.6" height="41.6" fill="#2a0000" stroke="#f04444" stroke-width="1.4" shape-rendering="auto"/>
<rect x="264.7" y="662.7" width="3.6" height="47.6" fill="#2a0000" stroke="#f04444" stroke-width="1.4" shape-rendering="auto"/>
<rect x="271.7" y="651.7" width="3.6" height="58.6" fill="#2a0000" stroke="#f04444" stroke-width="1.4" shape-rendering="auto"/>
<rect x="278.7" y="656.7" width="3.6" height="53.6" fill="#2a0000" stroke="#f04444" stroke-width="1.4" shape-rendering="auto"/>
<rect x="285" y="654" width="5" height="57" fill="#00ffff"/>
<rect x="292.7" y="636.7" width="3.6" height="73.6" fill="#2a0000" stroke="#f04444" stroke-width="1.4" shape-rendering="auto"/>
<rect x="299" y="626" width="5" height="85" fill="#00ffff"/>
<rect x="306.7" y="641.7" width="3.6" height="68.6" fill="#2a0000" stroke="#f04444" stroke-width="1.4" shape-rendering="auto"/>
<rect x="313.7" y="623.7" width="3.6" height="86.6" fill="#2a0000" stroke="#f04444" stroke-width="1.4" shape-rendering="auto"/>
<rect x="319.7" y="631.7" width="3.6" height="78.6" fill="#2a0000" stroke="#f04444" stroke-width="1.4" shape-rendering="auto"/>
<rect x="326.7" y="591.7" width="3.6" height="118.6" fill="#2a0000" stroke="#f04444" stroke-width="1.4" shape-rendering="auto"/>
<rect x="333" y="584" width="5" height="127" fill="#00ffff"/>
<rect x="340" y="610" width="5" height="101" fill="#00ffff"/>
<rect x="347.7" y="630.7" width="3.6" height="79.6" fill="#2a0000" stroke="#f04444" stroke-width="1.4" shape-rendering="auto"/>
<rect x="354.7" y="633.7" width="3.6" height="76.6" fill="#2a0000" stroke="#f04444" stroke-width="1.4" shape-rendering="auto"/>
<rect x="361.7" y="596.7" width="3.6" height="113.6" fill="#2a0000" stroke="#f04444" stroke-width="1.4" shape-rendering="auto"/>
<rect x="368.7" y="594.7" width="3.6" height="115.6" fill="#2a0000" stroke="#f04444" stroke-width="1.4" shape-rendering="auto"/>
<rect x="374.7" y="578.7" width="3.6" height="131.6" fill="#2a0000" stroke="#f04444" stroke-width="1.4" shape-rendering="auto"/>
<rect x="381" y="576" width="5" height="135" fill="#00ffff"/>
<rect x="388.7" y="572.7" width="3.6" height="137.6" fill="#2a0000" stroke="#f04444" stroke-width="1.4" shape-rendering="auto"/>
<rect x="395.7" y="590.7" width="3.6" height="119.6" fill="#2a0000" stroke="#f04444" stroke-width="1.4" shape-rendering="auto"/>
<rect x="402.7" y="567.7" width="3.6" height="142.6" fill="#2a0000" stroke="#f04444" stroke-width="1.4" shape-rendering="auto"/>
<rect x="409" y="586" width="5" height="125" fill="#00ffff"/>
<rect x="416" y="614" width="5" height="97" fill="#00ffff"/>
<rect x="423" y="630" width="5" height="81" fill="#00ffff"/>
<rect x="430.7" y="632.7" width="3.6" height="77.6" fill="#2a0000" stroke="#f04444" stroke-width="1.4" shape-rendering="auto"/>
<rect x="436.7" y="630.7" width="3.6" height="79.6" fill="#2a0000" stroke="#f04444" stroke-width="1.4" shape-rendering="auto"/>
<rect x="443" y="629" width="5" height="82" fill="#00ffff"/>
<rect x="450.7" y="614.7" width="3.6" height="95.6" fill="#2a0000" stroke="#f04444" stroke-width="1.4" shape-rendering="auto"/>
<rect x="457" y="628" width="5" height="83" fill="#00ffff"/>
<rect x="464.7" y="627.7" width="3.6" height="82.6" fill="#2a0000" stroke="#f04444" stroke-width="1.4" shape-rendering="auto"/>
<rect x="471" y="625" width="5" height="86" fill="#00ffff"/>
<rect x="478" y="638" width="5" height="73" fill="#00ffff"/>
<rect x="485" y="639" width="5" height="72" fill="#00ffff"/>
<rect x="491.7" y="631.7" width="3.6" height="78.6" fill="#2a0000" stroke="#f04444" stroke-width="1.4" shape-rendering="auto"/>
<rect x="498.7" y="611.7" width="3.6" height="98.6" fill="#2a0000" stroke="#f04444" stroke-width="1.4" shape-rendering="auto"/>
<rect x="505" y="603" width="5" height="108" fill="#00ffff"/>
<rect x="512.7" y="620.7" width="3.6" height="89.6" fill="#2a0000" stroke="#f04444" stroke-width="1.4" shape-rendering="auto"/>
<rect x="519" y="615" width="5" height="96" fill="#00ffff"/>
<rect x="526" y="614" width="5" height="97" fill="#00ffff"/>
<rect x="533.7" y="630.7" width="3.6" height="79.6" fill="#2a0000" stroke="#f04444" stroke-width="1.4" shape-rendering="auto"/>
<rect x="540" y="615" width="5" height="96" fill="#00ffff"/>
<rect x="546" y="626" width="5" height="85" fill="#00ffff"/>
<rect x="553.7" y="642.7" width="3.6" height="67.6" fill="#2a0000" stroke="#f04444" stroke-width="1.4" shape-rendering="auto"/>
<rect x="560" y="638" width="5" height="73" fill="#00ffff"/>
<rect x="567.7" y="632.7" width="3.6" height="77.6" fill="#2a0000" stroke="#f04444" stroke-width="1.4" shape-rendering="auto"/>
<rect x="574.7" y="623.7" width="3.6" height="86.6" fill="#2a0000" stroke="#f04444" stroke-width="1.4" shape-rendering="auto"/>
<rect x="581" y="629" width="5" height="82" fill="#00ffff"/>
<rect x="588.7" y="631.7" width="3.6" height="78.6" fill="#2a0000" stroke="#f04444" stroke-width="1.4" shape-rendering="auto"/>
<rect x="595" y="626" width="5" height="85" fill="#00ffff"/>
<rect x="602" y="635" width="5" height="76" fill="#00ffff"/>
<rect x="608.7" y="639.7" width="3.6" height="70.6" fill="#2a0000" stroke="#f04444" stroke-width="1.4" shape-rendering="auto"/>
<rect x="615" y="626" width="5" height="85" fill="#00ffff"/>
<rect x="622" y="644" width="5" height="67" fill="#00ffff"/>
<rect x="629" y="637" width="5" height="74" fill="#00ffff"/>
<rect x="636.7" y="656.7" width="3.6" height="53.6" fill="#2a0000" stroke="#f04444" stroke-width="1.4" shape-rendering="auto"/>
<rect x="643" y="644" width="5" height="67" fill="#00ffff"/>
<rect x="650" y="651" width="5" height="60" fill="#00ffff"/>
<rect x="657.7" y="654.7" width="3.6" height="55.6" fill="#2a0000" stroke="#f04444" stroke-width="1.4" shape-rendering="auto"/>
<rect x="663" y="659" width="5" height="52" fill="#00ffff"/>
<rect x="670.7" y="638.7" width="3.6" height="71.6" fill="#2a0000" stroke="#f04444" stroke-width="1.4" shape-rendering="auto"/>
<rect x="677" y="654" width="5" height="57" fill="#00ffff"/>
<rect x="684.7" y="656.7" width="3.6" height="53.6" fill="#2a0000" stroke="#f04444" stroke-width="1.4" shape-rendering="auto"/>
<rect x="691.7" y="653.7" width="3.6" height="56.6" fill="#2a0000" stroke="#f04444" stroke-width="1.4" shape-rendering="auto"/>
<rect x="698.7" y="653.7" width="3.6" height="56.6" fill="#2a0000" stroke="#f04444" stroke-width="1.4" shape-rendering="auto"/>
<rect x="705" y="641" width="5" height="70" fill="#00ffff"/>
<rect x="712" y="653" width="5" height="58" fill="#00ffff"/>
<rect x="718.7" y="653.7" width="3.6" height="56.6" fill="#2a0000" stroke="#f04444" stroke-width="1.4" shape-rendering="auto"/>
<rect x="725" y="649" width="5" height="62" fill="#00ffff"/>
<rect x="732" y="645" width="5" height="66" fill="#00ffff"/>
<rect x="739" y="657" width="5" height="54" fill="#00ffff"/>
<rect x="746.7" y="650.7" width="3.6" height="59.6" fill="#2a0000" stroke="#f04444" stroke-width="1.4" shape-rendering="auto"/>
<rect x="753.7" y="649.7" width="3.6" height="60.6" fill="#2a0000" stroke="#f04444" stroke-width="1.4" shape-rendering="auto"/>
<rect x="760.7" y="656.7" width="3.6" height="53.6" fill="#2a0000" stroke="#f04444" stroke-width="1.4" shape-rendering="auto"/>
<rect x="767" y="654" width="5" height="57" fill="#00ffff"/>
<rect x="774" y="657" width="5" height="54" fill="#00ffff"/>
<rect x="780" y="653" width="5" height="58" fill="#00ffff"/>
<rect x="787" y="659" width="5" height="52" fill="#00ffff"/>
<rect x="794" y="659" width="5" height="52" fill="#00ffff"/>
<rect x="801" y="659" width="5" height="52" fill="#00ffff"/>
<rect x="808.7" y="666.7" width="3.6" height="43.6" fill="#2a0000" stroke="#f04444" stroke-width="1.4" shape-rendering="auto"/>
<rect x="815.7" y="642.7" width="3.6" height="67.6" fill="#2a0000" stroke="#f04444" stroke-width="1.4" shape-rendering="auto"/>
<rect x="822" y="648" width="5" height="63" fill="#00ffff"/>
<rect x="829.7" y="649.7" width="3.6" height="60.6" fill="#2a0000" stroke="#f04444" stroke-width="1.4" shape-rendering="auto"/>
<rect x="835" y="650" width="5" height="61" fill="#00ffff"/>
<rect x="842" y="663" width="5" height="48" fill="#00ffff"/>
<rect x="849.7" y="666.7" width="3.6" height="43.6" fill="#2a0000" stroke="#f04444" stroke-width="1.4" shape-rendering="auto"/>
<rect x="856" y="647" width="5" height="64" fill="#00ffff"/>
<rect x="863.7" y="642.7" width="3.6" height="67.6" fill="#2a0000" stroke="#f04444" stroke-width="1.4" shape-rendering="auto"/>
<rect x="870" y="626" width="5" height="85" fill="#00ffff"/>
<rect x="877" y="638" width="5" height="73" fill="#00ffff"/>
<rect x="884" y="642" width="5" height="69" fill="#00ffff"/>
<rect x="890.7" y="651.7" width="3.6" height="58.6" fill="#2a0000" stroke="#f04444" stroke-width="1.4" shape-rendering="auto"/>
<rect x="897.7" y="642.7" width="3.6" height="67.6" fill="#2a0000" stroke="#f04444" stroke-width="1.4" shape-rendering="auto"/>
<rect x="904" y="648" width="5" height="63" fill="#00ffff"/>
<rect x="911.7" y="632.7" width="3.6" height="77.6" fill="#2a0000" stroke="#f04444" stroke-width="1.4" shape-rendering="auto"/>
<rect x="918.7" y="644.7" width="3.6" height="65.6" fill="#2a0000" stroke="#f04444" stroke-width="1.4" shape-rendering="auto"/>
<rect x="925" y="651" width="5" height="60" fill="#00ffff"/>
<rect x="932" y="656" width="5" height="55" fill="#00ffff"/>
<rect x="939.7" y="663.7" width="3.6" height="46.6" fill="#2a0000" stroke="#f04444" stroke-width="1.4" shape-rendering="auto"/>
<rect x="946" y="653" width="5" height="58" fill="#00ffff"/>
<rect x="952.7" y="668.7" width="3.6" height="41.6" fill="#2a0000" stroke="#f04444" stroke-width="1.4" shape-rendering="auto"/>
<rect x="959" y="668" width="5" height="43" fill="#00ffff"/>
<rect x="966" y="666" width="5" height="45" fill="#00ffff"/>
<rect x="973.7" y="668.7" width="3.6" height="41.6" fill="#2a0000" stroke="#f04444" stroke-width="1.4" shape-rendering="auto"/>
<rect x="980.7" y="651.7" width="3.6" height="58.6" fill="#2a0000" stroke="#f04444" stroke-width="1.4" shape-rendering="auto"/>
<rect x="987" y="663" width="5" height="48" fill="#00ffff"/>
<rect x="994.7" y="659.7" width="3.6" height="50.6" fill="#2a0000" stroke="#f04444" stroke-width="1.4" shape-rendering="auto"/>
<rect x="1001" y="662" width="5" height="49" fill="#00ffff"/>
<rect x="1007.7" y="666.7" width="3.6" height="43.6" fill="#2a0000" stroke="#f04444" stroke-width="1.4" shape-rendering="auto"/>
<rect x="1014" y="663" width="5" height="48" fill="#00ffff"/>
<rect x="1021.7" y="671.7" width="3.6" height="38.6" fill="#2a0000" stroke="#f04444" stroke-width="1.4" shape-rendering="auto"/>
<rect x="1028.7" y="659.7" width="3.6" height="50.6" fill="#2a0000" stroke="#f04444" stroke-width="1.4" shape-rendering="auto"/>
<rect x="1035.7" y="663.7" width="3.6" height="46.6" fill="#2a0000" stroke="#f04444" stroke-width="1.4" shape-rendering="auto"/>
<rect x="1042" y="669" width="5" height="42" fill="#00ffff"/>
<rect x="1049.7" y="669.7" width="3.6" height="40.6" fill="#2a0000" stroke="#f04444" stroke-width="1.4" shape-rendering="auto"/>
<rect x="1056.7" y="666.7" width="3.6" height="43.6" fill="#2a0000" stroke="#f04444" stroke-width="1.4" shape-rendering="auto"/>
<rect x="1062" y="668" width="5" height="43" fill="#00ffff"/>
<rect x="1069.7" y="668.7" width="3.6" height="41.6" fill="#2a0000" stroke="#f04444" stroke-width="1.4" shape-rendering="auto"/>
<rect x="1076.7" y="660.7" width="3.6" height="49.6" fill="#2a0000" stroke="#f04444" stroke-width="1.4" shape-rendering="auto"/>
<rect x="1083" y="666" width="5" height="45" fill="#00ffff"/>
<rect x="1090.7" y="650.7" width="3.6" height="59.6" fill="#2a0000" stroke="#f04444" stroke-width="1.4" shape-rendering="auto"/>
<rect x="1097" y="668" width="5" height="43" fill="#00ffff"/>
<rect x="1104.7" y="671.7" width="3.6" height="38.6" fill="#2a0000" stroke="#f04444" stroke-width="1.4" shape-rendering="auto"/>
<rect x="1111" y="663" width="5" height="48" fill="#00ffff"/>
<rect x="1118.7" y="668.7" width="3.6" height="41.6" fill="#2a0000" stroke="#f04444" stroke-width="1.4" shape-rendering="auto"/>
<rect x="1124" y="671" width="5" height="40" fill="#00ffff"/>
<rect x="1131" y="663" width="5" height="48" fill="#00ffff"/>
<rect x="1138.7" y="660.7" width="3.6" height="49.6" fill="#2a0000" stroke="#f04444" stroke-width="1.4" shape-rendering="auto"/>
<rect x="1145.7" y="657.7" width="3.6" height="52.6" fill="#2a0000" stroke="#f04444" stroke-width="1.4" shape-rendering="auto"/>
<rect x="1152.7" y="638.7" width="3.6" height="71.6" fill="#2a0000" stroke="#f04444" stroke-width="1.4" shape-rendering="auto"/>
<rect x="1159" y="642" width="5" height="69" fill="#00ffff"/>
<rect x="1166" y="654" width="5" height="57" fill="#00ffff"/>
<rect x="1173" y="654" width="5" height="57" fill="#00ffff"/>
<rect x="1179.7" y="653.7" width="3.6" height="56.6" fill="#2a0000" stroke="#f04444" stroke-width="1.4" shape-rendering="auto"/>
<rect x="1186.7" y="656.7" width="3.6" height="53.6" fill="#2a0000" stroke="#f04444" stroke-width="1.4" shape-rendering="auto"/>
<rect x="1193.7" y="644.7" width="3.6" height="65.6" fill="#2a0000" stroke="#f04444" stroke-width="1.4" shape-rendering="auto"/>
<rect x="1200" y="648" width="5" height="63" fill="#00ffff"/>
<rect x="1207" y="647" width="5" height="64" fill="#00ffff"/>
<rect x="1214" y="636" width="5" height="75" fill="#00ffff"/>
<rect x="1221.7" y="641.7" width="3.6" height="68.6" fill="#2a0000" stroke="#f04444" stroke-width="1.4" shape-rendering="auto"/>
<rect x="1228.7" y="638.7" width="3.6" height="71.6" fill="#2a0000" stroke="#f04444" stroke-width="1.4" shape-rendering="auto"/>
<rect x="1234.7" y="638.7" width="3.6" height="71.6" fill="#2a0000" stroke="#f04444" stroke-width="1.4" shape-rendering="auto"/>
<rect x="1241.7" y="615.7" width="3.6" height="94.6" fill="#2a0000" stroke="#f04444" stroke-width="1.4" shape-rendering="auto"/>
<rect x="1248" y="635" width="5" height="76" fill="#00ffff"/>
<rect x="1255.7" y="618.7" width="3.6" height="91.6" fill="#2a0000" stroke="#f04444" stroke-width="1.4" shape-rendering="auto"/>
<rect x="1262" y="621" width="5" height="90" fill="#00ffff"/>
<rect x="1269" y="633" width="5" height="78" fill="#00ffff"/>
<rect x="1276" y="642" width="5" height="69" fill="#00ffff"/>
<rect x="1283" y="635" width="5" height="76" fill="#00ffff"/>
<rect x="1290" y="632" width="5" height="79" fill="#00ffff"/>
<rect x="1296" y="647" width="5" height="64" fill="#00ffff"/>
<rect x="1303.7" y="647.7" width="3.6" height="62.6" fill="#2a0000" stroke="#f04444" stroke-width="1.4" shape-rendering="auto"/>
<rect x="1310" y="644" width="5" height="67" fill="#00ffff"/>
<rect x="1317" y="647" width="5" height="64" fill="#00ffff"/>
<rect x="1324.7" y="641.7" width="3.6" height="68.6" fill="#2a0000" stroke="#f04444" stroke-width="1.4" shape-rendering="auto"/>
<rect x="1331" y="642" width="5" height="69" fill="#00ffff"/>
<rect x="1338" y="642" width="5" height="69" fill="#00ffff"/>
<rect x="1345.7" y="656.7" width="3.6" height="53.6" fill="#2a0000" stroke="#f04444" stroke-width="1.4" shape-rendering="auto"/>
<rect x="1351" y="663" width="5" height="48" fill="#00ffff"/>
<rect x="1358" y="665" width="5" height="46" fill="#00ffff"/>
<rect x="1365.7" y="666.7" width="3.6" height="43.6" fill="#2a0000" stroke="#f04444" stroke-width="1.4" shape-rendering="auto"/>
<rect x="1372.7" y="657.7" width="3.6" height="52.6" fill="#2a0000" stroke="#f04444" stroke-width="1.4" shape-rendering="auto"/>
<rect x="1379" y="650" width="5" height="61" fill="#00ffff"/>
<rect x="1386.7" y="644.7" width="3.6" height="65.6" fill="#2a0000" stroke="#f04444" stroke-width="1.4" shape-rendering="auto"/>
<rect x="1393" y="641" width="5" height="70" fill="#00ffff"/>
<rect x="1400" y="651" width="5" height="60" fill="#00ffff"/>
<rect x="1406.7" y="659.7" width="3.6" height="50.6" fill="#2a0000" stroke="#f04444" stroke-width="1.4" shape-rendering="auto"/>
<rect x="1413" y="653" width="5" height="58" fill="#00ffff"/>
<rect x="1420" y="654" width="5" height="57" fill="#00ffff"/>
<rect x="1427.7" y="656.7" width="3.6" height="53.6" fill="#2a0000" stroke="#f04444" stroke-width="1.4" shape-rendering="auto"/>
<rect x="1434" y="657" width="5" height="54" fill="#00ffff"/>
<rect x="1441.7" y="657.7" width="3.6" height="52.6" fill="#2a0000" stroke="#f04444" stroke-width="1.4" shape-rendering="auto"/>
</g>
<polyline fill="none" stroke="#ffff00" stroke-width="1.3" stroke-linejoin="round"  points="5.0,666.1 20.0,667.7 29.9,667.7 39.9,670.7 49.9,672.7 63.9,675.7 75.8,674.1 89.8,675.3 105.8,675.7 115.8,673.7 127.7,669.7 139.7,666.7 151.7,666.1 163.7,663.4 175.6,661.8 191.6,663.8 207.6,667.7 223.6,668.1 239.5,670.7 259.5,671.1 269.5,668.7 283.4,666.1 290.0,662.2 300.0,657.8 310.0,650.8 321.9,645.8 327.9,637.8 335.9,628.8 347.9,622.8 359.9,616.8 369.8,613.9 377.8,605.9 385.8,599.9 393.8,596.3 405.8,593.9 413.8,591.5 423.7,589.5 431.7,593.9 441.7,598.3 451.7,604.9 463.7,612.9 473.6,620.8 481.6,627.4 487.6,628.8 497.6,628.8 509.6,623.8 521.5,621.8 529.5,621.4 537.5,622.2 547.5,619.8 559.5,620.8 573.4,623.8 580.0,625.8 586.0,626.8 592.0,628.8 602.0,630.2 613.9,631.8 631.9,632.2 639.9,635.4 651.9,638.8 663.8,641.8 675.8,645.8 685.8,649.8 699.8,650.2 719.7,650.8 735.7,650.2 745.7,651.4 755.6,649.4 769.6,649.8 779.6,651.8 791.6,653.4 803.6,654.2 811.5,655.4 823.5,654.8 839.5,653.8 849.5,656.2 859.4,654.8 867.4,652.2 870.0,650.8 878.0,647.4 905.9,647.4 919.9,641.4 929.9,641.4 939.9,645.8 953.8,650.8 969.8,654.8 985.8,659.8 999.7,661.4 1019.7,663.8 1039.7,662.8 1049.6,665.3 1069.6,665.3 1079.6,666.7 1089.6,665.3 1099.5,664.8 1119.5,665.3 1133.5,665.3 1143.5,664.8 1153.4,661.8 1159.4,660.8 1170.0,658.8 1180.0,656.2 1189.9,653.8 1199.9,652.2 1211.9,648.8 1221.9,648.8 1231.9,646.8 1243.8,641.8 1253.8,638.8 1263.8,633.8 1269.8,632.2 1283.8,632.2 1295.7,630.8 1307.7,631.8 1315.7,635.8 1325.7,638.8 1339.6,640.8 1349.6,643.8 1359.6,647.8 1367.6,651.4 1379.6,652.8 1395.5,653.4 1403.5,653.8 1409.5,656.2 1417.5,654.2 1427.5,653.4 1442.6,653.4"/>
<polyline fill="none" stroke="#f0f0f0" stroke-width="1.3" stroke-linejoin="round"  points="5.0,669.7 12.0,670.7 20.0,672.7 29.9,671.7 39.9,672.7 49.9,674.7 59.9,678.1 67.9,678.1 75.8,676.7 83.8,674.1 93.8,672.7 105.8,672.7 115.8,671.7 123.8,667.7 131.7,663.8 139.7,660.4 159.7,660.4 167.7,662.8 175.6,664.8 183.6,666.1 195.6,667.7 203.6,670.7 219.6,670.7 235.5,669.7 249.5,670.1 259.5,670.7 267.5,668.7 275.4,664.8 285.4,660.8 298.0,646.8 308.0,641.8 315.9,635.8 323.9,629.8 331.9,616.8 337.9,610.9 343.9,607.9 349.9,609.5 359.9,609.5 367.8,612.9 373.8,607.9 381.8,599.9 387.8,587.9 391.8,582.9 397.8,581.9 405.8,575.9 413.8,579.9 419.7,586.9 427.7,599.9 437.7,616.8 444.7,626.8 461.7,627.4 473.6,624.8 481.6,628.8 487.6,632.2 493.6,632.2 501.6,628.8 509.6,622.8 519.5,615.8 526.5,612.3 533.5,615.8 541.5,618.2 549.5,621.8 557.5,627.8 563.5,630.8 571.4,631.4 577.4,632.2 580.0,631.8 586.0,632.2 592.0,629.8 604.0,628.8 611.9,632.2 625.9,633.4 631.9,636.8 639.9,640.8 645.9,641.8 653.9,646.8 659.8,648.8 665.8,652.8 671.8,650.2 677.8,650.8 685.8,652.8 695.8,650.8 707.7,651.4 719.7,650.8 733.7,649.4 743.7,651.8 753.7,649.8 763.6,651.8 771.6,653.8 781.6,653.4 791.6,655.8 799.6,656.8 809.5,659.4 817.5,657.8 825.5,654.2 835.5,652.8 843.5,649.8 851.5,655.8 859.4,654.8 867.4,651.8 870.0,650.8 878.0,644.8 886.0,639.4 899.9,639.4 907.9,643.8 919.9,642.8 929.9,644.2 939.9,647.8 949.8,654.8 957.8,660.8 965.8,662.8 973.8,665.3 985.8,664.8 993.8,661.8 1005.7,660.8 1019.7,662.8 1029.7,663.4 1039.7,663.8 1049.6,666.7 1059.6,666.1 1069.6,667.7 1079.6,665.3 1089.6,663.8 1095.5,661.4 1109.5,662.2 1119.5,664.8 1127.5,669.7 1135.5,667.7 1143.5,665.3 1151.4,661.8 1157.4,655.8 1160.0,650.8 1168.0,650.2 1176.0,649.8 1182.0,647.8 1189.9,651.4 1197.9,652.2 1207.9,650.2 1217.9,646.8 1227.9,642.8 1237.8,638.8 1243.8,633.4 1251.8,633.4 1259.8,627.8 1270.8,624.2 1277.8,629.8 1287.7,630.8 1297.7,637.8 1305.7,640.8 1319.7,642.2 1327.7,645.4 1335.6,643.8 1343.6,642.8 1353.6,647.8 1359.6,650.8 1369.6,657.8 1375.6,661.8 1383.6,658.8 1391.5,654.8 1401.5,648.8 1409.5,649.8 1417.5,649.8 1427.5,654.8 1435.4,655.8 1442.6,656.2"/>
<polyline fill="none" stroke="#ffff00" stroke-width="1.3" stroke-linejoin="round"  points="5.0,816.8 18.0,821.8 25.9,829.8 35.9,838.7 47.9,847.7 59.9,853.7 69.9,854.1 79.8,852.7 89.8,854.1 99.8,856.7 109.4,859.3 115.8,854.7 123.8,841.7 131.7,830.8 139.7,822.8 148.7,812.8 157.7,809.8 169.7,803.4 177.6,804.8 185.6,805.8 193.6,804.8 201.6,809.8 209.6,812.8 218.6,814.2 229.5,815.8 239.5,825.8 246.5,834.8 253.5,831.8 261.5,822.8 269.5,809.8 277.4,797.8 285.4,789.8 296.0,780.9 306.0,776.9 315.0,775.9 327.9,772.9 335.9,771.9 342.9,774.9 349.3,776.3 357.9,776.3 369.8,774.3 379.8,771.9 391.4,774.3 397.8,772.9 407.8,773.5 417.7,783.9 425.7,794.2 431.7,801.8 439.7,807.8 447.7,812.8 457.7,816.8 467.6,823.8 479.6,835.8 488.6,841.3 497.6,832.8 506.6,821.8 515.5,807.8 525.5,796.8 534.5,792.2 541.5,792.2 549.5,796.8 557.5,807.8 562.5,816.8 569.4,823.8 577.4,827.4 588.0,823.8 597.0,820.8 604.0,819.4 610.3,813.8 617.9,814.2 625.9,818.8 633.9,828.8 644.9,840.7 651.9,844.7 659.8,851.3 666.2,855.3 679.8,855.7 687.8,855.3 693.8,851.7 700.4,846.1 707.7,842.1 714.1,841.7 721.7,838.1 727.7,836.2 734.7,839.7 743.7,843.3 751.7,838.1 762.6,828.8 771.6,821.8 779.6,816.8 785.6,816.2 793.6,821.4 803.6,829.8 811.5,836.8 819.5,830.8 825.5,826.2 831.5,819.4 839.5,816.2 847.5,815.4 859.4,812.8 867.4,805.4 876.0,798.8 886.0,795.8 892.0,795.4 899.9,792.2 906.9,790.8 913.9,785.9 920.9,782.3 927.9,783.5 934.9,785.9 941.9,788.2 948.8,797.8 955.8,805.8 961.8,815.8 969.8,823.4 977.8,828.2 985.8,823.4 993.8,814.8 1001.7,811.4 1009.7,808.2 1017.7,811.4 1024.7,813.8 1029.7,809.8 1037.7,802.8 1045.6,793.8 1053.6,787.8 1059.6,785.5 1071.6,785.5 1079.6,790.8 1089.6,803.8 1099.5,817.8 1109.5,826.8 1113.5,828.2 1125.5,827.4 1133.5,823.8 1141.5,815.8 1149.4,806.8 1157.4,798.2 1160.0,794.2 1170.0,788.8 1180.0,783.9 1188.9,781.9 1201.9,781.9 1208.9,785.9 1216.3,791.4 1222.9,791.8 1229.9,787.8 1239.8,781.5 1250.8,780.9 1258.8,776.9 1263.8,774.9 1270.8,775.5 1277.8,776.9 1284.8,778.3 1291.7,785.9 1298.7,797.8 1305.7,802.8 1312.7,807.8 1319.7,813.8 1327.7,820.8 1335.6,829.8 1343.6,836.8 1351.6,842.7 1360.6,850.7 1368.6,854.1 1375.6,849.7 1381.6,841.7 1389.5,831.8 1397.5,821.4 1405.5,815.4 1413.5,811.8 1423.5,811.8 1429.5,809.4 1436.4,812.8 1441.8,815.4"/>
<polyline fill="none" stroke="#f0f0f0" stroke-width="1.3" stroke-linejoin="round"  points="5.0,824.2 14.0,826.2 19.0,829.8 25.9,842.7 32.9,848.7 39.9,851.7 46.9,858.7 58.9,859.7 63.9,857.3 69.9,852.7 75.8,850.7 81.8,852.7 87.8,856.7 93.8,856.1 101.8,861.3 109.4,864.7 113.8,851.7 119.8,831.8 127.7,815.8 135.7,808.2 142.7,804.8 149.7,800.8 157.7,804.8 163.7,797.8 170.7,794.2 176.6,809.8 183.6,807.4 191.6,797.8 197.6,812.8 205.6,822.8 211.6,816.8 218.6,813.8 225.5,818.8 232.5,829.8 239.5,841.7 245.9,848.1 250.5,831.8 257.5,811.8 263.5,795.8 271.5,783.9 279.4,777.5 287.4,775.5 295.0,769.9 301.0,771.5 309.0,771.5 315.0,776.3 321.9,770.9 328.3,768.9 335.9,772.9 342.9,777.9 349.3,780.9 355.9,776.9 363.9,775.9 369.8,771.5 376.2,768.3 383.8,770.3 391.4,779.5 397.8,771.9 404.8,770.9 409.8,780.9 417.7,799.8 425.7,814.8 431.7,816.2 439.7,816.8 445.7,822.8 453.7,820.8 460.7,823.8 466.6,829.8 473.6,842.7 479.6,846.1 487.2,851.7 491.6,835.8 498.6,812.8 506.6,802.8 514.6,788.8 521.5,780.9 529.5,785.9 537.5,788.8 543.5,795.8 549.5,806.8 555.5,820.8 562.5,840.7 569.4,837.7 576.4,829.8 584.0,825.4 590.0,817.8 597.0,814.8 604.0,816.2 610.3,802.8 617.9,812.8 623.9,823.8 630.9,839.7 637.9,845.7 644.9,854.1 651.9,856.7 659.8,860.7 666.2,865.3 671.8,858.7 679.8,856.7 687.8,856.1 693.8,844.7 700.4,830.2 707.7,836.8 714.1,839.7 721.7,832.8 727.7,829.8 734.7,844.7 742.1,852.7 748.7,836.8 755.6,825.8 762.6,817.8 769.6,811.4 777.6,807.4 783.6,814.2 789.6,824.8 796.6,835.8 803.6,844.7 810.5,846.7 816.5,827.8 823.5,815.8 830.5,804.2 837.5,807.8 844.5,814.8 851.5,813.4 859.4,809.8 865.4,797.8 877.0,787.8 886.0,791.8 892.0,792.8 899.9,786.9 906.9,786.3 913.9,777.9 920.9,774.9 927.9,786.9 934.9,792.2 940.9,794.2 947.8,812.8 954.8,822.8 961.8,833.8 968.8,837.3 975.8,839.3 982.8,820.8 988.8,809.4 995.7,800.2 1002.7,807.4 1008.7,804.2 1016.7,816.8 1024.7,813.8 1029.7,805.8 1036.7,791.8 1043.7,784.3 1051.6,775.9 1058.6,777.5 1065.6,781.9 1072.6,785.5 1078.6,795.8 1085.6,819.8 1092.6,829.8 1099.5,837.7 1106.5,834.8 1112.5,838.7 1119.5,827.8 1127.5,822.8 1133.5,815.8 1140.5,803.8 1147.4,794.8 1154.4,784.3 1160.0,781.9 1167.0,780.9 1174.0,778.9 1182.0,776.9 1188.9,779.9 1194.9,779.5 1201.9,781.5 1208.9,791.8 1216.3,803.8 1222.9,791.8 1229.9,780.9 1237.4,774.9 1243.8,775.9 1250.8,776.9 1258.8,771.5 1263.8,771.5 1270.8,776.9 1277.8,779.9 1284.8,781.9 1291.7,797.8 1298.7,819.8 1305.7,815.8 1312.7,814.8 1319.7,826.2 1325.7,828.2 1333.7,839.7 1340.6,850.7 1346.6,849.3 1353.6,854.7 1360.6,861.7 1367.6,858.7 1374.6,841.7 1381.6,824.8 1388.5,809.8 1395.5,807.4 1402.5,805.8 1409.5,804.2 1416.5,806.8 1423.5,811.8 1429.5,808.8 1436.4,817.8 1441.8,819.8"/>
<polyline fill="none" stroke="#ff00ff" stroke-width="1.3" stroke-linejoin="round"  points="5.0,838.7 14.0,839.1 19.0,842.7 25.9,871.7 32.9,873.7 39.9,877.7 46.9,883.3 53.9,873.3 57.9,871.7 63.9,859.7 68.9,852.7 74.9,847.7 80.8,850.1 87.8,861.7 93.8,857.7 101.8,869.7 109.4,875.7 113.8,839.7 117.8,815.8 122.8,787.8 127.7,774.9 135.7,769.9 142.7,773.5 148.7,775.5 157.7,793.8 163.7,782.9 170.7,779.9 176.6,820.8 183.6,807.8 191.6,792.8 197.6,827.8 205.6,843.7 211.6,827.8 218.6,814.2 225.5,823.8 232.5,842.7 239.5,871.7 245.9,876.7 249.5,839.7 254.5,799.8 260.5,767.9 266.5,750.9 274.5,742.9 280.4,744.9 287.4,749.9 293.6,746.9 300.0,754.9 304.0,758.9 309.0,761.9 315.0,776.9 321.9,763.9 328.3,759.5 335.9,769.9 342.9,785.9 349.3,789.4 355.9,777.5 363.9,775.9 369.8,764.9 376.2,759.5 383.8,766.9 391.4,787.8 397.8,770.3 404.8,766.9 409.8,787.8 417.7,829.8 425.7,857.3 431.7,845.7 439.7,837.7 445.7,841.7 453.7,834.2 460.7,836.2 466.6,845.7 473.6,871.7 479.6,870.7 487.2,876.7 491.6,839.7 498.6,781.9 501.6,771.9 507.6,759.9 514.6,746.9 521.5,742.9 526.5,764.9 533.5,775.9 540.5,791.8 547.5,815.8 554.5,855.7 562.5,886.7 569.4,861.7 576.4,839.7 584.0,829.8 590.0,807.4 597.0,802.8 604.0,809.8 610.3,778.9 617.9,811.8 623.9,837.7 630.9,869.7 637.9,874.7 644.9,883.7 651.9,879.7 659.8,879.7 666.2,882.7 671.8,860.7 679.8,857.3 687.8,856.7 693.8,829.8 700.4,798.2 707.7,827.8 714.1,839.7 721.7,820.8 727.7,817.8 734.7,855.7 742.1,869.3 748.7,827.8 755.6,803.8 762.6,794.8 769.6,787.4 777.6,784.9 783.6,803.8 789.6,831.8 796.6,853.7 803.6,873.7 810.5,866.7 816.5,811.8 823.5,792.8 830.5,775.9 837.5,795.8 844.5,814.2 851.5,811.4 859.4,803.8 865.4,775.9 873.0,763.9 878.0,767.9 886.0,785.9 892.0,790.8 899.9,774.9 906.9,777.9 913.9,761.9 920.9,759.5 927.9,787.8 934.9,805.8 940.9,804.2 947.8,841.7 954.8,855.7 961.8,868.7 968.8,868.7 975.8,862.7 978.8,849.7 982.8,813.8 988.8,786.9 995.7,773.5 1002.7,800.8 1008.7,795.8 1016.7,827.4 1024.7,817.8 1029.7,790.8 1036.7,764.9 1041.7,759.9 1051.6,750.3 1058.6,761.9 1065.6,780.9 1072.6,785.9 1078.6,811.8 1085.6,865.7 1092.6,869.7 1099.5,874.7 1106.5,857.7 1112.5,858.7 1119.5,826.8 1127.5,820.8 1133.5,799.8 1140.5,775.9 1147.4,762.9 1154.4,748.9 1160.0,755.9 1167.0,761.5 1174.0,765.5 1182.0,765.5 1188.9,776.9 1194.9,774.3 1201.9,780.9 1208.9,801.8 1216.3,828.8 1222.9,791.8 1229.9,768.9 1237.4,757.9 1243.8,767.9 1250.8,771.5 1258.8,760.9 1263.8,761.5 1270.8,777.9 1277.8,783.9 1284.8,788.8 1291.7,826.8 1298.7,863.3 1305.7,845.7 1312.7,831.8 1319.7,850.7 1325.7,847.3 1333.7,872.7 1340.6,885.7 1346.6,869.7 1353.6,876.7 1360.6,884.1 1367.6,869.7 1374.6,829.8 1381.6,797.8 1388.5,768.9 1395.5,775.9 1402.5,783.9 1409.5,787.8 1416.5,800.8 1423.5,811.4 1429.5,805.8 1436.4,825.8 1441.8,831.8"/>
<text x="134.5" y="519" fill="#d0d0d0" textLength="66.5" lengthAdjust="spacingAndGlyphs" >1201.80</text>
<path d="M132.5 510.5 H115.5 M120.5 507 L115.5 510.5 L120.5 515.5" stroke="#e0e0e0" stroke-width="1.1" fill="none"/>
<text x="548.5" y="55" fill="#d0d0d0" textLength="66.5" lengthAdjust="spacingAndGlyphs" >1792.03</text>
<path d="M545 47 L528 42.3 M533.5 38.6 Q529 38.5 528 42.3 L531 47" stroke="#e0e0e0" stroke-width="1.1" fill="none"/>
<clipPath id="cp1"><rect x="1370" y="170" width="97" height="40"/></clipPath>
<rect x="1379" y="181" width="88" height="16" fill="#000"/>
<text x="1372" y="195" fill="#d0d0d0" clip-path="url(#cp1)">1623.18 - 1655.98</text>
<path d="M66.5 463.2 h3 l6 6 v3 h-4.5 v7.6 h-6 v-7.6 h-4.5 v-3 z" fill="#ff0000"/>
<path d="M121.8 478.2 h3 l6 6 v3 h-4.5 v7.6 h-6 v-7.6 h-4.5 v-3 z" fill="#ff0000"/>
<path d="M252.2 487.4 h3 l6 6 v3 h-4.5 v7.6 h-6 v-7.6 h-4.5 v-3 z" fill="#ff0000"/>
<path d="M492.2 173.7 h3 l6 6 v3 h-4.5 v7.6 h-6 v-7.6 h-4.5 v-3 z" fill="#ff0000"/>
<path d="M672.5 304.2 h3 l6 6 v3 h-4.5 v7.6 h-6 v-7.6 h-4.5 v-3 z" fill="#ff0000"/>
<path d="M747.7 317.8 h3 l6 6 v3 h-4.5 v7.6 h-6 v-7.6 h-4.5 v-3 z" fill="#ff0000"/>
<path d="M795.2 316.2 h3 l6 6 v3 h-4.5 v7.6 h-6 v-7.6 h-4.5 v-3 z" fill="#ff0000"/>
<path d="M816.6 330.7 h3 l6 6 v3 h-4.5 v7.6 h-6 v-7.6 h-4.5 v-3 z" fill="#ff0000"/>
<path d="M1106.2 266.7 h3 l6 6 v3 h-4.5 v7.6 h-6 v-7.6 h-4.5 v-3 z" fill="#ff0000"/>
<path d="M1292.4 167.8 h3 l6 6 v3 h-4.5 v7.6 h-6 v-7.6 h-4.5 v-3 z" fill="#ff0000"/>
<path d="M1374.2 173.4 h3 l6 6 v3 h-4.5 v7.6 h-6 v-7.6 h-4.5 v-3 z" fill="#ff0000"/>
<path d="M197.2 14.6 h3 l6 6 v3 h-4.5 v7.6 h-6 v-7.6 h-4.5 v-3 z" fill="#ff0000"/>
<g stroke="#dcdc00" stroke-width="2" shape-rendering="crispEdges">
<line x1="2" y1="93" x2="1467" y2="93"/>
<line x1="2" y1="179" x2="1467" y2="179"/>
<line x1="2" y1="218" x2="1467" y2="218"/>
</g>
<g stroke="#dcdc00" stroke-width="1" shape-rendering="crispEdges">
<line x1="2" y1="418.88" x2="1467" y2="108.91"/>
<line x1="2" y1="419.88" x2="1467" y2="109.91"/>
<line x1="2" y1="515.88" x2="1467" y2="205.91"/>
<line x1="2" y1="516.88" x2="1467" y2="206.91"/>
</g>
<line x1="1377.5" y1="173" x2="1467" y2="173" stroke="#808080" stroke-width="2" shape-rendering="crispEdges"/>
<path d="M195.9 433.6 v6.3 h-4.7 v2.3 l7.2 7.4 l7.2 -7.4 v-2.3 h-4.7 v-6.3" fill="none" stroke="#00e800" stroke-width="1.6" stroke-linejoin="round"/>
<path d="M389.3 80.0 v6.3 h-4.7 v2.3 l7.2 7.4 l7.2 -7.4 v-2.3 h-4.7 v-6.3" fill="none" stroke="#00e800" stroke-width="1.6" stroke-linejoin="round"/>
<path d="M409.0 41.0 v6.3 h-4.7 v2.3 l7.2 7.4 l7.2 -7.4 v-2.3 h-4.7 v-6.3" fill="none" stroke="#00e800" stroke-width="1.6" stroke-linejoin="round"/>
<path d="M884.4 242.9 v6.3 h-4.7 v2.3 l7.2 7.4 l7.2 -7.4 v-2.3 h-4.7 v-6.3" fill="none" stroke="#00e800" stroke-width="1.6" stroke-linejoin="round"/>
<path d="M904.9 234.3 v6.3 h-4.7 v2.3 l7.2 7.4 l7.2 -7.4 v-2.3 h-4.7 v-6.3" fill="none" stroke="#00e800" stroke-width="1.6" stroke-linejoin="round"/>
<path d="M924.8 200.9 v6.3 h-4.7 v2.3 l7.2 7.4 l7.2 -7.4 v-2.3 h-4.7 v-6.3" fill="none" stroke="#00e800" stroke-width="1.6" stroke-linejoin="round"/>
<path d="M1070.5 190.3 v6.3 h-4.7 v2.3 l7.2 7.4 l7.2 -7.4 v-2.3 h-4.7 v-6.3" fill="none" stroke="#00e800" stroke-width="1.6" stroke-linejoin="round"/>
<path d="M1179.9 154.4 v6.3 h-4.7 v2.3 l7.2 7.4 l7.2 -7.4 v-2.3 h-4.7 v-6.3" fill="none" stroke="#00e800" stroke-width="1.6" stroke-linejoin="round"/>
<path d="M1275.9 82.4 v6.3 h-4.7 v2.3 l7.2 7.4 l7.2 -7.4 v-2.3 h-4.7 v-6.3" fill="none" stroke="#00e800" stroke-width="1.6" stroke-linejoin="round"/>
<path d="M1221.1 71.6 h6.4 v7.6 h4.6 v2.7 l-6.6 7 h-2.4 l-6.6 -7 v-2.7 h4.6 z" fill="#00ff00"/>
<g shape-rendering="crispEdges" fill="#8e0000">
<rect x="1467" y="10" width="2" height="703"/>
<rect x="1467" y="713" width="4" height="176"/>
<rect x="2" y="537" width="1501" height="2"/>
<rect x="2" y="712" width="1501" height="2"/>
<rect x="1469" y="690" width="34" height="2"/>
<rect x="1469" y="34" width="8" height="2"/>
<rect x="1469" y="74" width="4" height="2"/>
<rect x="1469" y="113" width="8" height="2"/>
<rect x="1469" y="153" width="4" height="2"/>
<rect x="1469" y="193" width="8" height="2"/>
<rect x="1469" y="233" width="4" height="2"/>
<rect x="1469" y="273" width="8" height="2"/>
<rect x="1469" y="312" width="4" height="2"/>
<rect x="1469" y="352" width="8" height="2"/>
<rect x="1469" y="392" width="4" height="2"/>
<rect x="1469" y="432" width="8" height="2"/>
<rect x="1469" y="472" width="4" height="2"/>
<rect x="1469" y="511" width="8" height="2"/>
<rect x="1469" y="588" width="8" height="2"/>
<rect x="1469" y="609" width="4" height="2"/>
<rect x="1469" y="628" width="8" height="2"/>
<rect x="1469" y="649" width="4" height="2"/>
<rect x="1469" y="669" width="8" height="2"/>
</g>
<path d="M1435.5 16 l8 8.5 l-8 8.5 l-8 -8.5 z" fill="none" stroke="#8e0000" stroke-width="1"/>
<rect x="1450" y="16.75" width="14.5" height="15.5" fill="none" stroke="#8e0000" stroke-width="1.6"/>
<rect x="1458.5" y="17" width="1.7" height="15" fill="#8e0000"/>
<path d="M1499.5 32.3 l3.5 -3.5" stroke="#c00000" stroke-width="1.5" fill="none"/>
<path d="M1499.5 72.1 l3.5 -3.5" stroke="#c00000" stroke-width="1.5" fill="none"/>
<path d="M1499.5 111.9 l3.5 -3.5" stroke="#c00000" stroke-width="1.5" fill="none"/>
<path d="M1499.5 151.7 l3.5 -3.5" stroke="#c00000" stroke-width="1.5" fill="none"/>
<path d="M1499.5 191.5 l3.5 -3.5" stroke="#c00000" stroke-width="1.5" fill="none"/>
<path d="M1499.5 231.3 l3.5 -3.5" stroke="#c00000" stroke-width="1.5" fill="none"/>
<path d="M1499.5 271.1 l3.5 -3.5" stroke="#c00000" stroke-width="1.5" fill="none"/>
<path d="M1499.5 310.9 l3.5 -3.5" stroke="#c00000" stroke-width="1.5" fill="none"/>
<path d="M1499.5 350.7 l3.5 -3.5" stroke="#c00000" stroke-width="1.5" fill="none"/>
<path d="M1499.5 390.5 l3.5 -3.5" stroke="#c00000" stroke-width="1.5" fill="none"/>
<path d="M1499.5 430.3 l3.5 -3.5" stroke="#c00000" stroke-width="1.5" fill="none"/>
<path d="M1499.5 470.1 l3.5 -3.5" stroke="#c00000" stroke-width="1.5" fill="none"/>
<path d="M1499.5 509.9 l3.5 -3.5" stroke="#c00000" stroke-width="1.5" fill="none"/>
<text x="3" y="31" fill="#dcdcdc" textLength="178" lengthAdjust="spacingAndGlyphs" font-size="18" >创业板指(日线.前复权)</text>
<text x="211.5" y="29" fill="#dcdcdc" textLength="116" lengthAdjust="spacingAndGlyphs" >EXPMA(12,50)</text>
<text x="335.5" y="29" fill="#dcdcdc" textLength="49" lengthAdjust="spacingAndGlyphs" >EXP1:</text>
<text x="389" y="29" fill="#dcdcdc" textLength="66.5" lengthAdjust="spacingAndGlyphs" >1655.98</text>
<text x="464.5" y="29" fill="#eeee00" textLength="49" lengthAdjust="spacingAndGlyphs" >EXP2:</text>
<text x="518" y="29" fill="#eeee00" textLength="66.5" lengthAdjust="spacingAndGlyphs" >1637.88</text>
<text x="1.5" y="556.2" fill="#dcdcdc" textLength="78.5" lengthAdjust="spacingAndGlyphs" >VOLUME:</text>
<text x="85.5" y="556.2" fill="#dcdcdc" textLength="107.5" lengthAdjust="spacingAndGlyphs" >63894840.00</text>
<text x="201.5" y="556.2" fill="#dcdcdc" textLength="41" lengthAdjust="spacingAndGlyphs" >MA5:</text>
<text x="246.5" y="556.2" fill="#dcdcdc" textLength="107" lengthAdjust="spacingAndGlyphs" >66669496.00</text>
<text x="362.5" y="556.2" fill="#eeee00" textLength="51" lengthAdjust="spacingAndGlyphs" >MA10:</text>
<text x="418" y="556.2" fill="#eeee00" textLength="107" lengthAdjust="spacingAndGlyphs" >70738664.00</text>
<text x="2.5" y="731.8" fill="#dcdcdc" textLength="85" lengthAdjust="spacingAndGlyphs" >KDJ(9,3,3)</text>
<text x="97.5" y="731.8" fill="#dcdcdc" textLength="15" lengthAdjust="spacingAndGlyphs" >K:</text>
<text x="118.3" y="731.8" fill="#dcdcdc" textLength="45.5" lengthAdjust="spacingAndGlyphs" >46.49</text>
<text x="172" y="731.8" fill="#eeee00" textLength="18" lengthAdjust="spacingAndGlyphs" >D:</text>
<text x="194.3" y="731.8" fill="#eeee00" textLength="45" lengthAdjust="spacingAndGlyphs" >51.31</text>
<text x="247.5" y="731.8" fill="#ff00ff" textLength="13" lengthAdjust="spacingAndGlyphs" >J:</text>
<text x="266.8" y="731.8" fill="#ff00ff" textLength="45.5" lengthAdjust="spacingAndGlyphs" >36.86</text>
<text x="1490" y="595" fill="#c00000" font-size="18" >15</text>
<text x="1490" y="635" fill="#c00000" font-size="18" >10</text>
<text x="1500" y="676" fill="#c00000" font-size="18" >5</text>
<text x="1472" y="708" fill="#c00000" font-size="17" >X1万</text>
<text x="1485" y="768" fill="#c00000" font-size="18" >100</text>
<text x="1496" y="790" fill="#c00000" font-size="18" >80</text>
<text x="1496" y="824" fill="#c00000" font-size="18" >50</text>
<text x="1496" y="858" fill="#c00000" font-size="18" >20</text>
<defs><linearGradient id="tg" x1="0" y1="0" x2="0" y2="1"><stop offset="0" stop-color="#dedede"/><stop offset="0.8" stop-color="#cfcfcf"/><stop offset="1" stop-color="#b4b4b4"/></linearGradient></defs>
<rect x="0" y="0" width="1503" height="8.5" fill="url(#tg)"/>
<rect x="581.5" y="-1" width="56" height="7.5" fill="#e2e2e2" stroke="#f4f4f4" stroke-width="1"/>
<rect x="649.5" y="-1" width="55.5" height="7.5" fill="#e2e2e2" stroke="#f4f4f4" stroke-width="1"/>
<circle cx="1504" cy="-3" r="7" fill="#f4f4f4" stroke="#a0a0a0" stroke-width="1"/>
<rect x="0" y="8.5" width="1503" height="1" fill="#8a8a8a"/><rect x="0" y="9.5" width="1503" height="0.8" fill="#303030"/>
<rect x="0" y="0" width="2" height="889" fill="#e8e8e8"/>
<rect x="3" y="0" width="24" height="1" fill="#ffffff"/>
</svg></body></html>
